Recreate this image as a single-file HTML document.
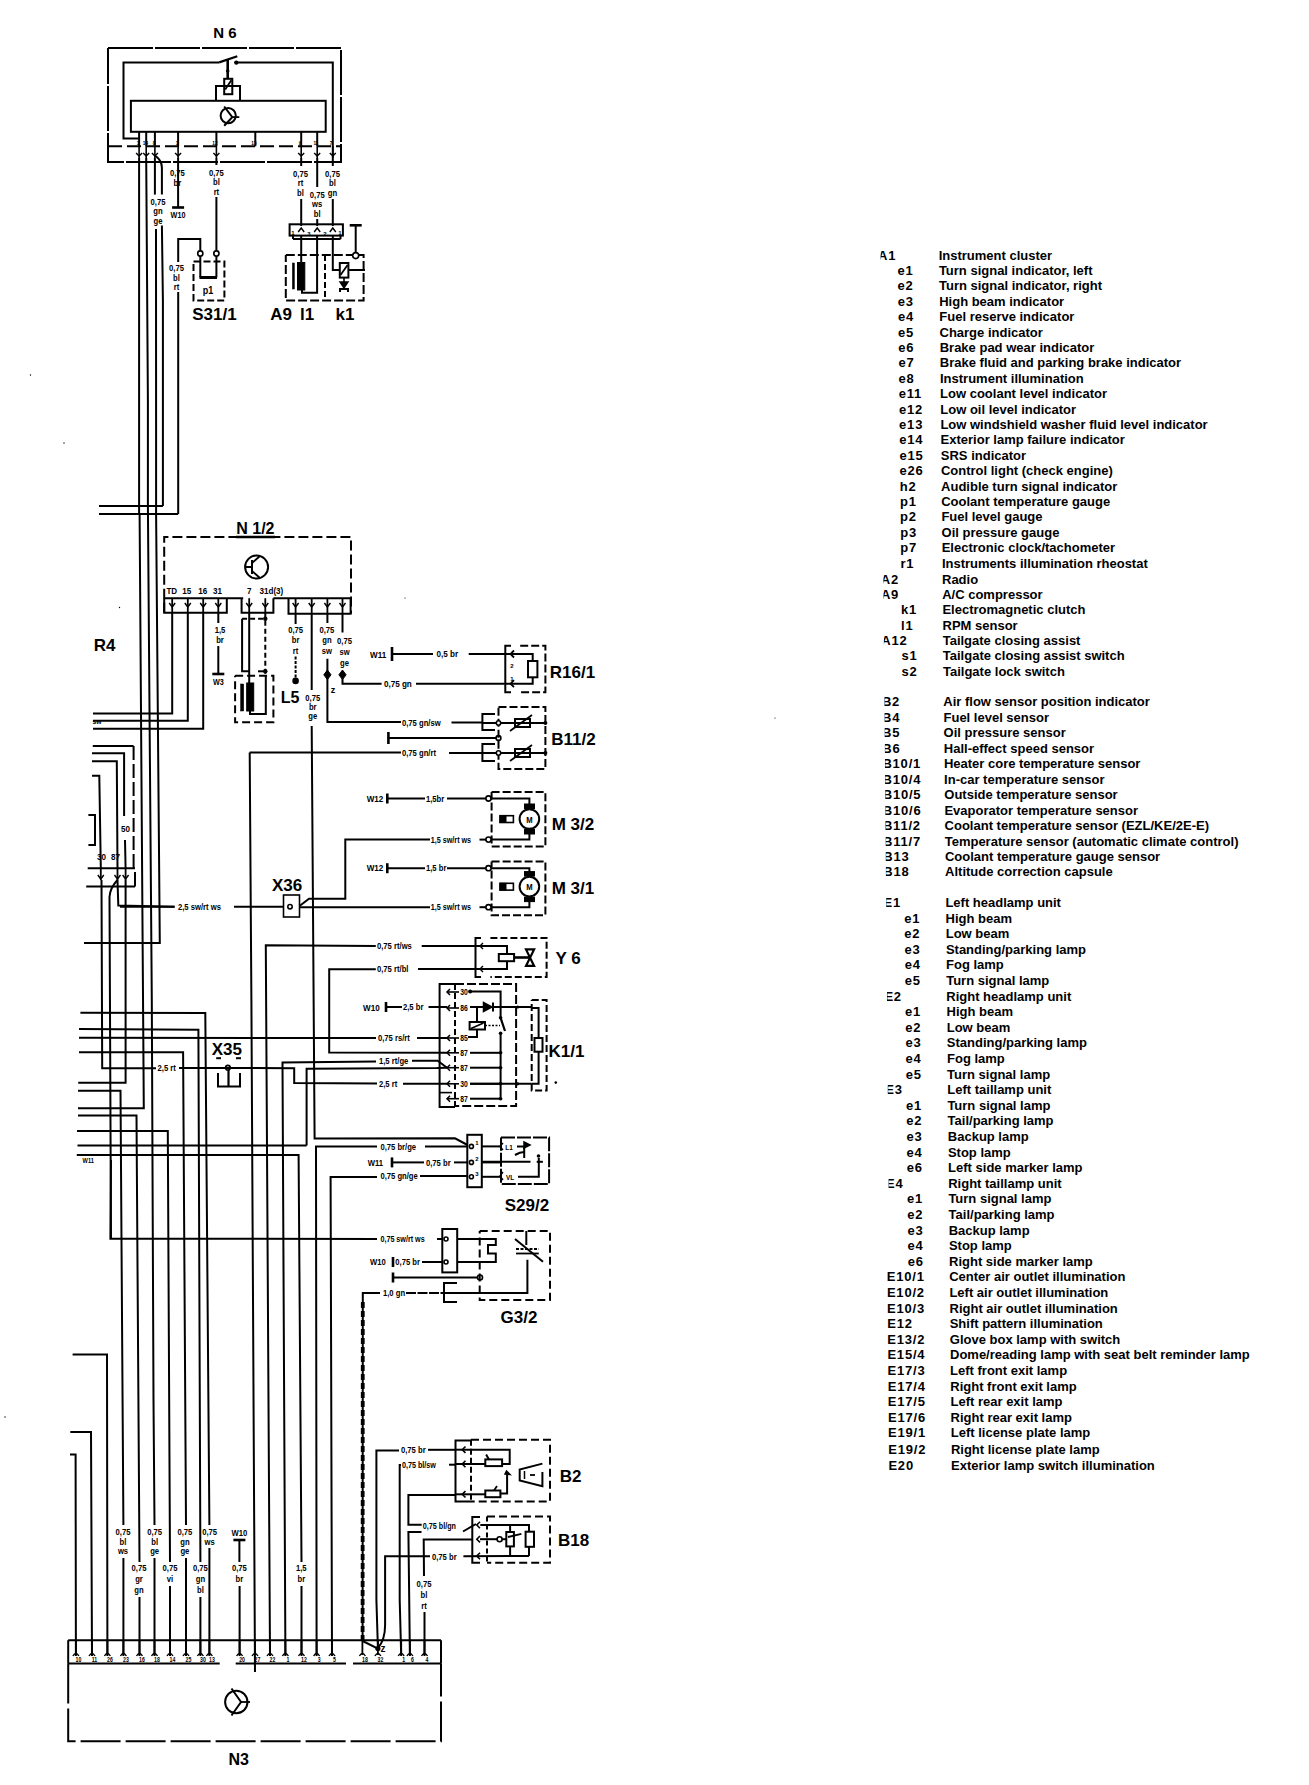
<!DOCTYPE html>
<html><head><meta charset="utf-8"><style>
html,body{margin:0;padding:0;background:#fff;overflow:hidden;}
svg{display:block;}
text{fill:#000;}
</style></head><body>
<svg width="1309" height="1785" viewBox="0 0 1309 1785" stroke-linecap="butt">
<rect x="0" y="0" width="1309" height="1785" fill="#fff"/>
<text x="878" y="259.6" font-family="&quot;Liberation Sans&quot;, sans-serif" font-size="13" font-weight="bold" text-anchor="start" letter-spacing="0.8">A1</text>
<rect x="877.7" y="249.1" width="2.9" height="12" fill="#fff"/>
<text x="938.7" y="259.6" font-family="&quot;Liberation Sans&quot;, sans-serif" font-size="13" font-weight="bold" text-anchor="start" letter-spacing="0.0">Instrument cluster</text>
<text x="897.5" y="275" font-family="&quot;Liberation Sans&quot;, sans-serif" font-size="13" font-weight="bold" text-anchor="start" letter-spacing="0.8">e1</text>
<text x="938.9" y="275" font-family="&quot;Liberation Sans&quot;, sans-serif" font-size="13" font-weight="bold" text-anchor="start" letter-spacing="0.0">Turn signal indicator, left</text>
<text x="897.6" y="290.4" font-family="&quot;Liberation Sans&quot;, sans-serif" font-size="13" font-weight="bold" text-anchor="start" letter-spacing="0.8">e2</text>
<text x="939" y="290.4" font-family="&quot;Liberation Sans&quot;, sans-serif" font-size="13" font-weight="bold" text-anchor="start" letter-spacing="0.0">Turn signal indicator, right</text>
<text x="897.8" y="305.8" font-family="&quot;Liberation Sans&quot;, sans-serif" font-size="13" font-weight="bold" text-anchor="start" letter-spacing="0.8">e3</text>
<text x="939.2" y="305.8" font-family="&quot;Liberation Sans&quot;, sans-serif" font-size="13" font-weight="bold" text-anchor="start" letter-spacing="0.0">High beam indicator</text>
<text x="897.9" y="321.2" font-family="&quot;Liberation Sans&quot;, sans-serif" font-size="13" font-weight="bold" text-anchor="start" letter-spacing="0.8">e4</text>
<text x="939.3" y="321.2" font-family="&quot;Liberation Sans&quot;, sans-serif" font-size="13" font-weight="bold" text-anchor="start" letter-spacing="0.0">Fuel reserve indicator</text>
<text x="898.1" y="336.6" font-family="&quot;Liberation Sans&quot;, sans-serif" font-size="13" font-weight="bold" text-anchor="start" letter-spacing="0.8">e5</text>
<text x="939.5" y="336.6" font-family="&quot;Liberation Sans&quot;, sans-serif" font-size="13" font-weight="bold" text-anchor="start" letter-spacing="0.0">Charge indicator</text>
<text x="898.3" y="352" font-family="&quot;Liberation Sans&quot;, sans-serif" font-size="13" font-weight="bold" text-anchor="start" letter-spacing="0.8">e6</text>
<text x="939.7" y="352" font-family="&quot;Liberation Sans&quot;, sans-serif" font-size="13" font-weight="bold" text-anchor="start" letter-spacing="0.0">Brake pad wear indicator</text>
<text x="898.4" y="367.4" font-family="&quot;Liberation Sans&quot;, sans-serif" font-size="13" font-weight="bold" text-anchor="start" letter-spacing="0.8">e7</text>
<text x="939.8" y="367.4" font-family="&quot;Liberation Sans&quot;, sans-serif" font-size="13" font-weight="bold" text-anchor="start" letter-spacing="0.0">Brake fluid and parking brake indicator</text>
<text x="898.6" y="382.8" font-family="&quot;Liberation Sans&quot;, sans-serif" font-size="13" font-weight="bold" text-anchor="start" letter-spacing="0.8">e8</text>
<text x="940" y="382.8" font-family="&quot;Liberation Sans&quot;, sans-serif" font-size="13" font-weight="bold" text-anchor="start" letter-spacing="0.0">Instrument illumination</text>
<text x="898.7" y="398.2" font-family="&quot;Liberation Sans&quot;, sans-serif" font-size="13" font-weight="bold" text-anchor="start" letter-spacing="0.8">e11</text>
<text x="940.1" y="398.2" font-family="&quot;Liberation Sans&quot;, sans-serif" font-size="13" font-weight="bold" text-anchor="start" letter-spacing="0.0">Low coolant level indicator</text>
<text x="898.9" y="413.6" font-family="&quot;Liberation Sans&quot;, sans-serif" font-size="13" font-weight="bold" text-anchor="start" letter-spacing="0.8">e12</text>
<text x="940.3" y="413.6" font-family="&quot;Liberation Sans&quot;, sans-serif" font-size="13" font-weight="bold" text-anchor="start" letter-spacing="0.0">Low oil level indicator</text>
<text x="899.1" y="429" font-family="&quot;Liberation Sans&quot;, sans-serif" font-size="13" font-weight="bold" text-anchor="start" letter-spacing="0.8">e13</text>
<text x="940.4" y="429" font-family="&quot;Liberation Sans&quot;, sans-serif" font-size="13" font-weight="bold" text-anchor="start" letter-spacing="0.0">Low windshield washer fluid level indicator</text>
<text x="899.2" y="444.4" font-family="&quot;Liberation Sans&quot;, sans-serif" font-size="13" font-weight="bold" text-anchor="start" letter-spacing="0.8">e14</text>
<text x="940.6" y="444.4" font-family="&quot;Liberation Sans&quot;, sans-serif" font-size="13" font-weight="bold" text-anchor="start" letter-spacing="0.0">Exterior lamp failure indicator</text>
<text x="899.4" y="459.8" font-family="&quot;Liberation Sans&quot;, sans-serif" font-size="13" font-weight="bold" text-anchor="start" letter-spacing="0.8">e15</text>
<text x="940.8" y="459.8" font-family="&quot;Liberation Sans&quot;, sans-serif" font-size="13" font-weight="bold" text-anchor="start" letter-spacing="0.0">SRS indicator</text>
<text x="899.5" y="475.2" font-family="&quot;Liberation Sans&quot;, sans-serif" font-size="13" font-weight="bold" text-anchor="start" letter-spacing="0.8">e26</text>
<text x="940.9" y="475.2" font-family="&quot;Liberation Sans&quot;, sans-serif" font-size="13" font-weight="bold" text-anchor="start" letter-spacing="0.0">Control light (check engine)</text>
<text x="899.7" y="490.6" font-family="&quot;Liberation Sans&quot;, sans-serif" font-size="13" font-weight="bold" text-anchor="start" letter-spacing="0.8">h2</text>
<text x="941.1" y="490.6" font-family="&quot;Liberation Sans&quot;, sans-serif" font-size="13" font-weight="bold" text-anchor="start" letter-spacing="0.0">Audible turn signal indicator</text>
<text x="899.9" y="506" font-family="&quot;Liberation Sans&quot;, sans-serif" font-size="13" font-weight="bold" text-anchor="start" letter-spacing="0.8">p1</text>
<text x="941.2" y="506" font-family="&quot;Liberation Sans&quot;, sans-serif" font-size="13" font-weight="bold" text-anchor="start" letter-spacing="0.0">Coolant temperature gauge</text>
<text x="900" y="521.4" font-family="&quot;Liberation Sans&quot;, sans-serif" font-size="13" font-weight="bold" text-anchor="start" letter-spacing="0.8">p2</text>
<text x="941.4" y="521.4" font-family="&quot;Liberation Sans&quot;, sans-serif" font-size="13" font-weight="bold" text-anchor="start" letter-spacing="0.0">Fuel level gauge</text>
<text x="900.2" y="536.8" font-family="&quot;Liberation Sans&quot;, sans-serif" font-size="13" font-weight="bold" text-anchor="start" letter-spacing="0.8">p3</text>
<text x="941.6" y="536.8" font-family="&quot;Liberation Sans&quot;, sans-serif" font-size="13" font-weight="bold" text-anchor="start" letter-spacing="0.0">Oil pressure gauge</text>
<text x="900.3" y="552.2" font-family="&quot;Liberation Sans&quot;, sans-serif" font-size="13" font-weight="bold" text-anchor="start" letter-spacing="0.8">p7</text>
<text x="941.7" y="552.2" font-family="&quot;Liberation Sans&quot;, sans-serif" font-size="13" font-weight="bold" text-anchor="start" letter-spacing="0.0">Electronic clock/tachometer</text>
<text x="900.5" y="567.6" font-family="&quot;Liberation Sans&quot;, sans-serif" font-size="13" font-weight="bold" text-anchor="start" letter-spacing="0.8">r1</text>
<text x="941.9" y="567.6" font-family="&quot;Liberation Sans&quot;, sans-serif" font-size="13" font-weight="bold" text-anchor="start" letter-spacing="0.0">Instruments illumination rheostat</text>
<text x="880.8" y="583.5" font-family="&quot;Liberation Sans&quot;, sans-serif" font-size="13" font-weight="bold" text-anchor="start" letter-spacing="0.8">A2</text>
<rect x="880.5" y="573.0" width="2.9" height="12" fill="#fff"/>
<text x="942" y="583.5" font-family="&quot;Liberation Sans&quot;, sans-serif" font-size="13" font-weight="bold" text-anchor="start" letter-spacing="0.0">Radio</text>
<text x="880.9" y="598.9" font-family="&quot;Liberation Sans&quot;, sans-serif" font-size="13" font-weight="bold" text-anchor="start" letter-spacing="0.8">A9</text>
<rect x="880.6" y="588.4" width="2.9" height="12" fill="#fff"/>
<text x="942.2" y="598.9" font-family="&quot;Liberation Sans&quot;, sans-serif" font-size="13" font-weight="bold" text-anchor="start" letter-spacing="0.0">A/C compressor</text>
<text x="901" y="614.2" font-family="&quot;Liberation Sans&quot;, sans-serif" font-size="13" font-weight="bold" text-anchor="start" letter-spacing="0.8">k1</text>
<text x="942.4" y="614.2" font-family="&quot;Liberation Sans&quot;, sans-serif" font-size="13" font-weight="bold" text-anchor="start" letter-spacing="0.0">Electromagnetic clutch</text>
<text x="901.1" y="629.5" font-family="&quot;Liberation Sans&quot;, sans-serif" font-size="13" font-weight="bold" text-anchor="start" letter-spacing="0.8">l1</text>
<text x="942.5" y="629.5" font-family="&quot;Liberation Sans&quot;, sans-serif" font-size="13" font-weight="bold" text-anchor="start" letter-spacing="0.0">RPM sensor</text>
<text x="881.3" y="644.9" font-family="&quot;Liberation Sans&quot;, sans-serif" font-size="13" font-weight="bold" text-anchor="start" letter-spacing="0.8">A12</text>
<rect x="881.0" y="634.4" width="2.9" height="12" fill="#fff"/>
<text x="942.7" y="644.9" font-family="&quot;Liberation Sans&quot;, sans-serif" font-size="13" font-weight="bold" text-anchor="start" letter-spacing="0.0">Tailgate closing assist</text>
<text x="901.5" y="660.2" font-family="&quot;Liberation Sans&quot;, sans-serif" font-size="13" font-weight="bold" text-anchor="start" letter-spacing="0.8">s1</text>
<text x="942.8" y="660.2" font-family="&quot;Liberation Sans&quot;, sans-serif" font-size="13" font-weight="bold" text-anchor="start" letter-spacing="0.0">Tailgate closing assist switch</text>
<text x="901.6" y="675.6" font-family="&quot;Liberation Sans&quot;, sans-serif" font-size="13" font-weight="bold" text-anchor="start" letter-spacing="0.8">s2</text>
<text x="943" y="675.6" font-family="&quot;Liberation Sans&quot;, sans-serif" font-size="13" font-weight="bold" text-anchor="start" letter-spacing="0.0">Tailgate lock switch</text>
<text x="881.9" y="706" font-family="&quot;Liberation Sans&quot;, sans-serif" font-size="13" font-weight="bold" text-anchor="start" letter-spacing="0.8">B2</text>
<rect x="881.6" y="695.5" width="2.9" height="12" fill="#fff"/>
<text x="943.3" y="706" font-family="&quot;Liberation Sans&quot;, sans-serif" font-size="13" font-weight="bold" text-anchor="start" letter-spacing="0.0">Air flow sensor position indicator</text>
<text x="882" y="721.5" font-family="&quot;Liberation Sans&quot;, sans-serif" font-size="13" font-weight="bold" text-anchor="start" letter-spacing="0.8">B4</text>
<rect x="881.7" y="711.0" width="2.9" height="12" fill="#fff"/>
<text x="943.5" y="721.5" font-family="&quot;Liberation Sans&quot;, sans-serif" font-size="13" font-weight="bold" text-anchor="start" letter-spacing="0.0">Fuel level sensor</text>
<text x="882.1" y="737" font-family="&quot;Liberation Sans&quot;, sans-serif" font-size="13" font-weight="bold" text-anchor="start" letter-spacing="0.8">B5</text>
<rect x="881.8" y="726.5" width="2.9" height="12" fill="#fff"/>
<text x="943.6" y="737" font-family="&quot;Liberation Sans&quot;, sans-serif" font-size="13" font-weight="bold" text-anchor="start" letter-spacing="0.0">Oil pressure sensor</text>
<text x="882.3" y="752.6" font-family="&quot;Liberation Sans&quot;, sans-serif" font-size="13" font-weight="bold" text-anchor="start" letter-spacing="0.8">B6</text>
<rect x="882.0" y="742.1" width="2.9" height="12" fill="#fff"/>
<text x="943.8" y="752.6" font-family="&quot;Liberation Sans&quot;, sans-serif" font-size="13" font-weight="bold" text-anchor="start" letter-spacing="0.0">Hall-effect speed sensor</text>
<text x="882.4" y="768.1" font-family="&quot;Liberation Sans&quot;, sans-serif" font-size="13" font-weight="bold" text-anchor="start" letter-spacing="0.8">B10/1</text>
<rect x="882.1" y="757.6" width="2.9" height="12" fill="#fff"/>
<text x="943.9" y="768.1" font-family="&quot;Liberation Sans&quot;, sans-serif" font-size="13" font-weight="bold" text-anchor="start" letter-spacing="0.0">Heater core temperature sensor</text>
<text x="882.5" y="783.6" font-family="&quot;Liberation Sans&quot;, sans-serif" font-size="13" font-weight="bold" text-anchor="start" letter-spacing="0.8">B10/4</text>
<rect x="882.2" y="773.1" width="2.9" height="12" fill="#fff"/>
<text x="944.1" y="783.6" font-family="&quot;Liberation Sans&quot;, sans-serif" font-size="13" font-weight="bold" text-anchor="start" letter-spacing="0.0">In-car temperature sensor</text>
<text x="882.7" y="799.1" font-family="&quot;Liberation Sans&quot;, sans-serif" font-size="13" font-weight="bold" text-anchor="start" letter-spacing="0.8">B10/5</text>
<rect x="882.4" y="788.6" width="2.9" height="12" fill="#fff"/>
<text x="944.3" y="799.1" font-family="&quot;Liberation Sans&quot;, sans-serif" font-size="13" font-weight="bold" text-anchor="start" letter-spacing="0.0">Outside temperature sensor</text>
<text x="882.8" y="814.6" font-family="&quot;Liberation Sans&quot;, sans-serif" font-size="13" font-weight="bold" text-anchor="start" letter-spacing="0.8">B10/6</text>
<rect x="882.5" y="804.1" width="2.9" height="12" fill="#fff"/>
<text x="944.4" y="814.6" font-family="&quot;Liberation Sans&quot;, sans-serif" font-size="13" font-weight="bold" text-anchor="start" letter-spacing="0.0">Evaporator temperature sensor</text>
<text x="882.9" y="830.2" font-family="&quot;Liberation Sans&quot;, sans-serif" font-size="13" font-weight="bold" text-anchor="start" letter-spacing="0.8">B11/2</text>
<rect x="882.6" y="819.7" width="2.9" height="12" fill="#fff"/>
<text x="944.6" y="830.2" font-family="&quot;Liberation Sans&quot;, sans-serif" font-size="13" font-weight="bold" text-anchor="start" letter-spacing="0.0">Coolant temperature sensor (EZL/KE/2E-E)</text>
<text x="883.1" y="845.7" font-family="&quot;Liberation Sans&quot;, sans-serif" font-size="13" font-weight="bold" text-anchor="start" letter-spacing="0.8">B11/7</text>
<rect x="882.8" y="835.2" width="2.9" height="12" fill="#fff"/>
<text x="944.7" y="845.7" font-family="&quot;Liberation Sans&quot;, sans-serif" font-size="13" font-weight="bold" text-anchor="start" letter-spacing="0.0">Temperature sensor (automatic climate control)</text>
<text x="883.2" y="861.2" font-family="&quot;Liberation Sans&quot;, sans-serif" font-size="13" font-weight="bold" text-anchor="start" letter-spacing="0.8">B13</text>
<rect x="882.9" y="850.7" width="2.9" height="12" fill="#fff"/>
<text x="944.9" y="861.2" font-family="&quot;Liberation Sans&quot;, sans-serif" font-size="13" font-weight="bold" text-anchor="start" letter-spacing="0.0">Coolant temperature gauge sensor</text>
<text x="883.3" y="876.4" font-family="&quot;Liberation Sans&quot;, sans-serif" font-size="13" font-weight="bold" text-anchor="start" letter-spacing="0.8">B18</text>
<rect x="883.0" y="865.9" width="2.9" height="12" fill="#fff"/>
<text x="945.1" y="876.4" font-family="&quot;Liberation Sans&quot;, sans-serif" font-size="13" font-weight="bold" text-anchor="start" letter-spacing="0.0">Altitude correction capsule</text>
<text x="883.6" y="907.3" font-family="&quot;Liberation Sans&quot;, sans-serif" font-size="13" font-weight="bold" text-anchor="start" letter-spacing="0.8">E1</text>
<rect x="883.3" y="896.8" width="2.9" height="12" fill="#fff"/>
<text x="945.4" y="907.3" font-family="&quot;Liberation Sans&quot;, sans-serif" font-size="13" font-weight="bold" text-anchor="start" letter-spacing="0.0">Left headlamp unit</text>
<text x="904.2" y="922.8" font-family="&quot;Liberation Sans&quot;, sans-serif" font-size="13" font-weight="bold" text-anchor="start" letter-spacing="0.8">e1</text>
<text x="945.5" y="922.8" font-family="&quot;Liberation Sans&quot;, sans-serif" font-size="13" font-weight="bold" text-anchor="start" letter-spacing="0.0">High beam</text>
<text x="904.3" y="938.4" font-family="&quot;Liberation Sans&quot;, sans-serif" font-size="13" font-weight="bold" text-anchor="start" letter-spacing="0.8">e2</text>
<text x="945.7" y="938.4" font-family="&quot;Liberation Sans&quot;, sans-serif" font-size="13" font-weight="bold" text-anchor="start" letter-spacing="0.0">Low beam</text>
<text x="904.5" y="953.9" font-family="&quot;Liberation Sans&quot;, sans-serif" font-size="13" font-weight="bold" text-anchor="start" letter-spacing="0.8">e3</text>
<text x="945.9" y="953.9" font-family="&quot;Liberation Sans&quot;, sans-serif" font-size="13" font-weight="bold" text-anchor="start" letter-spacing="0.0">Standing/parking lamp</text>
<text x="904.7" y="969.4" font-family="&quot;Liberation Sans&quot;, sans-serif" font-size="13" font-weight="bold" text-anchor="start" letter-spacing="0.8">e4</text>
<text x="946" y="969.4" font-family="&quot;Liberation Sans&quot;, sans-serif" font-size="13" font-weight="bold" text-anchor="start" letter-spacing="0.0">Fog lamp</text>
<text x="904.8" y="985" font-family="&quot;Liberation Sans&quot;, sans-serif" font-size="13" font-weight="bold" text-anchor="start" letter-spacing="0.8">e5</text>
<text x="946.2" y="985" font-family="&quot;Liberation Sans&quot;, sans-serif" font-size="13" font-weight="bold" text-anchor="start" letter-spacing="0.0">Turn signal lamp</text>
<text x="884.4" y="1000.5" font-family="&quot;Liberation Sans&quot;, sans-serif" font-size="13" font-weight="bold" text-anchor="start" letter-spacing="0.8">E2</text>
<rect x="884.1" y="990.0" width="2.9" height="12" fill="#fff"/>
<text x="946.3" y="1000.5" font-family="&quot;Liberation Sans&quot;, sans-serif" font-size="13" font-weight="bold" text-anchor="start" letter-spacing="0.0">Right headlamp unit</text>
<text x="905.1" y="1016.1" font-family="&quot;Liberation Sans&quot;, sans-serif" font-size="13" font-weight="bold" text-anchor="start" letter-spacing="0.8">e1</text>
<text x="946.5" y="1016.1" font-family="&quot;Liberation Sans&quot;, sans-serif" font-size="13" font-weight="bold" text-anchor="start" letter-spacing="0.0">High beam</text>
<text x="905.3" y="1031.7" font-family="&quot;Liberation Sans&quot;, sans-serif" font-size="13" font-weight="bold" text-anchor="start" letter-spacing="0.8">e2</text>
<text x="946.7" y="1031.7" font-family="&quot;Liberation Sans&quot;, sans-serif" font-size="13" font-weight="bold" text-anchor="start" letter-spacing="0.0">Low beam</text>
<text x="905.5" y="1047.3" font-family="&quot;Liberation Sans&quot;, sans-serif" font-size="13" font-weight="bold" text-anchor="start" letter-spacing="0.8">e3</text>
<text x="946.8" y="1047.3" font-family="&quot;Liberation Sans&quot;, sans-serif" font-size="13" font-weight="bold" text-anchor="start" letter-spacing="0.0">Standing/parking lamp</text>
<text x="905.6" y="1062.9" font-family="&quot;Liberation Sans&quot;, sans-serif" font-size="13" font-weight="bold" text-anchor="start" letter-spacing="0.8">e4</text>
<text x="947" y="1062.9" font-family="&quot;Liberation Sans&quot;, sans-serif" font-size="13" font-weight="bold" text-anchor="start" letter-spacing="0.0">Fog lamp</text>
<text x="905.8" y="1078.5" font-family="&quot;Liberation Sans&quot;, sans-serif" font-size="13" font-weight="bold" text-anchor="start" letter-spacing="0.8">e5</text>
<text x="947.1" y="1078.5" font-family="&quot;Liberation Sans&quot;, sans-serif" font-size="13" font-weight="bold" text-anchor="start" letter-spacing="0.0">Turn signal lamp</text>
<text x="885.2" y="1094.1" font-family="&quot;Liberation Sans&quot;, sans-serif" font-size="13" font-weight="bold" text-anchor="start" letter-spacing="0.8">E3</text>
<rect x="884.9" y="1083.6" width="2.9" height="12" fill="#fff"/>
<text x="947.3" y="1094.1" font-family="&quot;Liberation Sans&quot;, sans-serif" font-size="13" font-weight="bold" text-anchor="start" letter-spacing="0.0">Left taillamp unit</text>
<text x="906.1" y="1109.7" font-family="&quot;Liberation Sans&quot;, sans-serif" font-size="13" font-weight="bold" text-anchor="start" letter-spacing="0.8">e1</text>
<text x="947.4" y="1109.7" font-family="&quot;Liberation Sans&quot;, sans-serif" font-size="13" font-weight="bold" text-anchor="start" letter-spacing="0.0">Turn signal lamp</text>
<text x="906.3" y="1125.3" font-family="&quot;Liberation Sans&quot;, sans-serif" font-size="13" font-weight="bold" text-anchor="start" letter-spacing="0.8">e2</text>
<text x="947.6" y="1125.3" font-family="&quot;Liberation Sans&quot;, sans-serif" font-size="13" font-weight="bold" text-anchor="start" letter-spacing="0.0">Tail/parking lamp</text>
<text x="906.4" y="1140.9" font-family="&quot;Liberation Sans&quot;, sans-serif" font-size="13" font-weight="bold" text-anchor="start" letter-spacing="0.8">e3</text>
<text x="947.8" y="1140.9" font-family="&quot;Liberation Sans&quot;, sans-serif" font-size="13" font-weight="bold" text-anchor="start" letter-spacing="0.0">Backup lamp</text>
<text x="906.6" y="1156.5" font-family="&quot;Liberation Sans&quot;, sans-serif" font-size="13" font-weight="bold" text-anchor="start" letter-spacing="0.8">e4</text>
<text x="947.9" y="1156.5" font-family="&quot;Liberation Sans&quot;, sans-serif" font-size="13" font-weight="bold" text-anchor="start" letter-spacing="0.0">Stop lamp</text>
<text x="906.7" y="1172.1" font-family="&quot;Liberation Sans&quot;, sans-serif" font-size="13" font-weight="bold" text-anchor="start" letter-spacing="0.8">e6</text>
<text x="948.1" y="1172.1" font-family="&quot;Liberation Sans&quot;, sans-serif" font-size="13" font-weight="bold" text-anchor="start" letter-spacing="0.0">Left side marker lamp</text>
<text x="886" y="1187.7" font-family="&quot;Liberation Sans&quot;, sans-serif" font-size="13" font-weight="bold" text-anchor="start" letter-spacing="0.8">E4</text>
<rect x="885.7" y="1177.2" width="2.9" height="12" fill="#fff"/>
<text x="948.2" y="1187.7" font-family="&quot;Liberation Sans&quot;, sans-serif" font-size="13" font-weight="bold" text-anchor="start" letter-spacing="0.0">Right taillamp unit</text>
<text x="907.1" y="1203.3" font-family="&quot;Liberation Sans&quot;, sans-serif" font-size="13" font-weight="bold" text-anchor="start" letter-spacing="0.8">e1</text>
<text x="948.4" y="1203.3" font-family="&quot;Liberation Sans&quot;, sans-serif" font-size="13" font-weight="bold" text-anchor="start" letter-spacing="0.0">Turn signal lamp</text>
<text x="907.2" y="1219" font-family="&quot;Liberation Sans&quot;, sans-serif" font-size="13" font-weight="bold" text-anchor="start" letter-spacing="0.8">e2</text>
<text x="948.6" y="1219" font-family="&quot;Liberation Sans&quot;, sans-serif" font-size="13" font-weight="bold" text-anchor="start" letter-spacing="0.0">Tail/parking lamp</text>
<text x="907.4" y="1234.6" font-family="&quot;Liberation Sans&quot;, sans-serif" font-size="13" font-weight="bold" text-anchor="start" letter-spacing="0.8">e3</text>
<text x="948.7" y="1234.6" font-family="&quot;Liberation Sans&quot;, sans-serif" font-size="13" font-weight="bold" text-anchor="start" letter-spacing="0.0">Backup lamp</text>
<text x="907.5" y="1250.2" font-family="&quot;Liberation Sans&quot;, sans-serif" font-size="13" font-weight="bold" text-anchor="start" letter-spacing="0.8">e4</text>
<text x="948.9" y="1250.2" font-family="&quot;Liberation Sans&quot;, sans-serif" font-size="13" font-weight="bold" text-anchor="start" letter-spacing="0.0">Stop lamp</text>
<text x="907.7" y="1265.8" font-family="&quot;Liberation Sans&quot;, sans-serif" font-size="13" font-weight="bold" text-anchor="start" letter-spacing="0.8">e6</text>
<text x="949" y="1265.8" font-family="&quot;Liberation Sans&quot;, sans-serif" font-size="13" font-weight="bold" text-anchor="start" letter-spacing="0.0">Right side marker lamp</text>
<text x="886.8" y="1281.4" font-family="&quot;Liberation Sans&quot;, sans-serif" font-size="13" font-weight="bold" text-anchor="start" letter-spacing="0.8">E10/1</text>
<text x="949.2" y="1281.4" font-family="&quot;Liberation Sans&quot;, sans-serif" font-size="13" font-weight="bold" text-anchor="start" letter-spacing="0.0">Center air outlet illumination</text>
<text x="886.9" y="1297" font-family="&quot;Liberation Sans&quot;, sans-serif" font-size="13" font-weight="bold" text-anchor="start" letter-spacing="0.8">E10/2</text>
<text x="949.4" y="1297" font-family="&quot;Liberation Sans&quot;, sans-serif" font-size="13" font-weight="bold" text-anchor="start" letter-spacing="0.0">Left air outlet illumination</text>
<text x="887" y="1312.6" font-family="&quot;Liberation Sans&quot;, sans-serif" font-size="13" font-weight="bold" text-anchor="start" letter-spacing="0.8">E10/3</text>
<text x="949.5" y="1312.6" font-family="&quot;Liberation Sans&quot;, sans-serif" font-size="13" font-weight="bold" text-anchor="start" letter-spacing="0.0">Right air outlet illumination</text>
<text x="887.2" y="1328.2" font-family="&quot;Liberation Sans&quot;, sans-serif" font-size="13" font-weight="bold" text-anchor="start" letter-spacing="0.8">E12</text>
<text x="949.7" y="1328.2" font-family="&quot;Liberation Sans&quot;, sans-serif" font-size="13" font-weight="bold" text-anchor="start" letter-spacing="0.0">Shift pattern illumination</text>
<text x="887.3" y="1343.8" font-family="&quot;Liberation Sans&quot;, sans-serif" font-size="13" font-weight="bold" text-anchor="start" letter-spacing="0.8">E13/2</text>
<text x="949.8" y="1343.8" font-family="&quot;Liberation Sans&quot;, sans-serif" font-size="13" font-weight="bold" text-anchor="start" letter-spacing="0.0">Glove box lamp with switch</text>
<text x="887.4" y="1359.4" font-family="&quot;Liberation Sans&quot;, sans-serif" font-size="13" font-weight="bold" text-anchor="start" letter-spacing="0.8">E15/4</text>
<text x="950" y="1359.4" font-family="&quot;Liberation Sans&quot;, sans-serif" font-size="13" font-weight="bold" text-anchor="start" letter-spacing="0.0">Dome/reading lamp with seat belt reminder lamp</text>
<text x="887.6" y="1375" font-family="&quot;Liberation Sans&quot;, sans-serif" font-size="13" font-weight="bold" text-anchor="start" letter-spacing="0.8">E17/3</text>
<text x="950.1" y="1375" font-family="&quot;Liberation Sans&quot;, sans-serif" font-size="13" font-weight="bold" text-anchor="start" letter-spacing="0.0">Left front exit lamp</text>
<text x="887.7" y="1390.6" font-family="&quot;Liberation Sans&quot;, sans-serif" font-size="13" font-weight="bold" text-anchor="start" letter-spacing="0.8">E17/4</text>
<text x="950.3" y="1390.6" font-family="&quot;Liberation Sans&quot;, sans-serif" font-size="13" font-weight="bold" text-anchor="start" letter-spacing="0.0">Right front exit lamp</text>
<text x="887.8" y="1406.2" font-family="&quot;Liberation Sans&quot;, sans-serif" font-size="13" font-weight="bold" text-anchor="start" letter-spacing="0.8">E17/5</text>
<text x="950.5" y="1406.2" font-family="&quot;Liberation Sans&quot;, sans-serif" font-size="13" font-weight="bold" text-anchor="start" letter-spacing="0.0">Left rear exit lamp</text>
<text x="888" y="1421.8" font-family="&quot;Liberation Sans&quot;, sans-serif" font-size="13" font-weight="bold" text-anchor="start" letter-spacing="0.8">E17/6</text>
<text x="950.6" y="1421.8" font-family="&quot;Liberation Sans&quot;, sans-serif" font-size="13" font-weight="bold" text-anchor="start" letter-spacing="0.0">Right rear exit lamp</text>
<text x="888.1" y="1437.4" font-family="&quot;Liberation Sans&quot;, sans-serif" font-size="13" font-weight="bold" text-anchor="start" letter-spacing="0.8">E19/1</text>
<text x="950.8" y="1437.4" font-family="&quot;Liberation Sans&quot;, sans-serif" font-size="13" font-weight="bold" text-anchor="start" letter-spacing="0.0">Left license plate lamp</text>
<text x="888.2" y="1453.5" font-family="&quot;Liberation Sans&quot;, sans-serif" font-size="13" font-weight="bold" text-anchor="start" letter-spacing="0.8">E19/2</text>
<text x="950.9" y="1453.5" font-family="&quot;Liberation Sans&quot;, sans-serif" font-size="13" font-weight="bold" text-anchor="start" letter-spacing="0.0">Right license plate lamp</text>
<text x="888.4" y="1469.5" font-family="&quot;Liberation Sans&quot;, sans-serif" font-size="13" font-weight="bold" text-anchor="start" letter-spacing="0.8">E20</text>
<text x="951.1" y="1469.5" font-family="&quot;Liberation Sans&quot;, sans-serif" font-size="13" font-weight="bold" text-anchor="start" letter-spacing="0.0">Exterior lamp switch illumination</text>
<text x="225" y="38.4" font-family="&quot;Liberation Sans&quot;, sans-serif" font-size="15" font-weight="bold" text-anchor="middle">N 6</text>
<polyline points="108,48 341,48 341,162 108,162 108,48" fill="none" stroke="#000" stroke-width="2" stroke-dasharray="45,2"/>
<line x1="108" y1="146.3" x2="341" y2="146.3" stroke="#000" stroke-width="2" stroke-dasharray="14,5"/>
<polyline points="139.1,138.6 123.5,138.6 123.5,62.4 219.2,62.4" fill="none" stroke="#000" stroke-width="2"/>
<line x1="219.2" y1="62.4" x2="237.3" y2="56.3" stroke="#000" stroke-width="2.2"/>
<polyline points="236.3,62.6 332.8,62.6 332.8,158" fill="none" stroke="#000" stroke-width="2"/>
<circle cx="236.3" cy="62.6" r="2.2" fill="#000"/>
<line x1="227.7" y1="59.6" x2="227.7" y2="79" stroke="#000" stroke-width="2.6"/>
<circle cx="227.7" cy="71" r="1.8" fill="#000"/>
<polyline points="216,101 216,86 240,86 240,101" fill="none" stroke="#000" stroke-width="2"/>
<rect x="224.2" y="78.8" width="8.1" height="15.4" fill="none" stroke="#000" stroke-width="2"/>
<line x1="225.2" y1="89.4" x2="231.3" y2="80.3" stroke="#000" stroke-width="1.8"/>
<rect x="130.9" y="100.8" width="194.8" height="31" fill="none" stroke="#000" stroke-width="2"/>
<circle cx="228.2" cy="115.6" r="7.6" fill="none" stroke="#000" stroke-width="2"/>
<path d="M224.2,106.5 L232.3,117.1 L224.2,125.7" fill="none" stroke="#000" stroke-width="2"/>
<line x1="232.3" y1="117.1" x2="239.3" y2="117.1" stroke="#000" stroke-width="1.8"/>
<line x1="139.1" y1="131.8" x2="139.1" y2="146.3" stroke="#000" stroke-width="2"/>
<line x1="139.1" y1="146.3" x2="139.1" y2="158" stroke="#000" stroke-width="1.6"/>
<path d="M136.1,153 L139.1,156 L142.1,153" fill="none" stroke="#000" stroke-width="1.4"/>
<line x1="146.2" y1="131.8" x2="146.2" y2="146.3" stroke="#000" stroke-width="2"/>
<line x1="146.2" y1="146.3" x2="146.2" y2="158" stroke="#000" stroke-width="1.6"/>
<path d="M143.2,153 L146.2,156 L149.2,153" fill="none" stroke="#000" stroke-width="1.4"/>
<line x1="154.9" y1="131.8" x2="154.9" y2="146.3" stroke="#000" stroke-width="2"/>
<line x1="154.9" y1="146.3" x2="154.9" y2="158" stroke="#000" stroke-width="1.6"/>
<path d="M151.9,153 L154.9,156 L157.9,153" fill="none" stroke="#000" stroke-width="1.4"/>
<line x1="178.1" y1="131.8" x2="178.1" y2="146.3" stroke="#000" stroke-width="2"/>
<line x1="178.1" y1="146.3" x2="178.1" y2="158" stroke="#000" stroke-width="1.6"/>
<path d="M175.1,153 L178.1,156 L181.1,153" fill="none" stroke="#000" stroke-width="1.4"/>
<line x1="216.4" y1="131.8" x2="216.4" y2="146.3" stroke="#000" stroke-width="2"/>
<line x1="216.4" y1="146.3" x2="216.4" y2="158" stroke="#000" stroke-width="1.6"/>
<path d="M213.4,153 L216.4,156 L219.4,153" fill="none" stroke="#000" stroke-width="1.4"/>
<line x1="255.3" y1="131.8" x2="255.3" y2="146.3" stroke="#000" stroke-width="2"/>
<line x1="301.2" y1="131.8" x2="301.2" y2="146.3" stroke="#000" stroke-width="2"/>
<line x1="301.2" y1="146.3" x2="301.2" y2="158" stroke="#000" stroke-width="1.6"/>
<path d="M298.2,153 L301.2,156 L304.2,153" fill="none" stroke="#000" stroke-width="1.4"/>
<line x1="317.2" y1="131.8" x2="317.2" y2="146.3" stroke="#000" stroke-width="2"/>
<line x1="317.2" y1="146.3" x2="317.2" y2="158" stroke="#000" stroke-width="1.6"/>
<path d="M314.2,153 L317.2,156 L320.2,153" fill="none" stroke="#000" stroke-width="1.4"/>
<line x1="332.8" y1="146.3" x2="332.8" y2="158" stroke="#000" stroke-width="1.6"/>
<path d="M329.8,153 L332.8,156 L335.8,153" fill="none" stroke="#000" stroke-width="1.4"/>
<text transform="translate(138,145) scale(0.8,1)" font-family="&quot;Liberation Sans&quot;, sans-serif" font-size="6" font-weight="bold" text-anchor="middle">1</text>
<text transform="translate(145.5,145) scale(0.8,1)" font-family="&quot;Liberation Sans&quot;, sans-serif" font-size="6" font-weight="bold" text-anchor="middle">14</text>
<text transform="translate(154,145) scale(0.8,1)" font-family="&quot;Liberation Sans&quot;, sans-serif" font-size="6" font-weight="bold" text-anchor="middle">8</text>
<text transform="translate(177,145) scale(0.8,1)" font-family="&quot;Liberation Sans&quot;, sans-serif" font-size="6" font-weight="bold" text-anchor="middle">1</text>
<text transform="translate(215,145) scale(0.8,1)" font-family="&quot;Liberation Sans&quot;, sans-serif" font-size="6" font-weight="bold" text-anchor="middle">12</text>
<text transform="translate(254,145) scale(0.8,1)" font-family="&quot;Liberation Sans&quot;, sans-serif" font-size="6" font-weight="bold" text-anchor="middle">13</text>
<text transform="translate(300,145) scale(0.8,1)" font-family="&quot;Liberation Sans&quot;, sans-serif" font-size="6" font-weight="bold" text-anchor="middle">9</text>
<text transform="translate(316,145) scale(0.8,1)" font-family="&quot;Liberation Sans&quot;, sans-serif" font-size="6" font-weight="bold" text-anchor="middle">11</text>
<text transform="translate(331,145) scale(0.8,1)" font-family="&quot;Liberation Sans&quot;, sans-serif" font-size="6" font-weight="bold" text-anchor="middle">7</text>
<polyline points="139.1,158 139.1,514" fill="none" stroke="#000" stroke-width="2"/>
<polyline points="146.2,158 147.9,400 147.9,506" fill="none" stroke="#000" stroke-width="2"/>
<polyline points="154.9,158 154.9,194.6" fill="none" stroke="#000" stroke-width="2"/>
<polyline points="156,228.9 156.1,420 156.1,514" fill="none" stroke="#000" stroke-width="2"/>
<path d="M154.9,155.6 Q161.9,160 161.9,167.7 L161.9,194.6" fill="none" stroke="#000" stroke-width="2"/>
<polyline points="161.9,225.5 162.9,300 162.9,506" fill="none" stroke="#000" stroke-width="2"/>
<text transform="translate(158,204.5) scale(0.85,1)" font-family="&quot;Liberation Sans&quot;, sans-serif" font-size="9" font-weight="bold" text-anchor="middle">0,75</text>
<text transform="translate(158,214) scale(0.85,1)" font-family="&quot;Liberation Sans&quot;, sans-serif" font-size="9" font-weight="bold" text-anchor="middle">gn</text>
<text transform="translate(158,223.5) scale(0.85,1)" font-family="&quot;Liberation Sans&quot;, sans-serif" font-size="9" font-weight="bold" text-anchor="middle">ge</text>
<line x1="178.1" y1="158" x2="178.1" y2="207.5" stroke="#000" stroke-width="2"/>
<line x1="172.1" y1="207.5" x2="184.1" y2="207.5" stroke="#000" stroke-width="2.6"/>
<text transform="translate(177.4,175.7) scale(0.85,1)" font-family="&quot;Liberation Sans&quot;, sans-serif" font-size="9" font-weight="bold" text-anchor="middle">0,75</text>
<text transform="translate(177.4,185.7) scale(0.85,1)" font-family="&quot;Liberation Sans&quot;, sans-serif" font-size="9" font-weight="bold" text-anchor="middle">br</text>
<text transform="translate(178,217.6) scale(0.85,1)" font-family="&quot;Liberation Sans&quot;, sans-serif" font-size="8.5" font-weight="bold" text-anchor="middle">W10</text>
<polyline points="216.4,158 216.4,165" fill="none" stroke="#000" stroke-width="2"/>
<text transform="translate(216.4,175.7) scale(0.85,1)" font-family="&quot;Liberation Sans&quot;, sans-serif" font-size="9" font-weight="bold" text-anchor="middle">0,75</text>
<text transform="translate(216.4,185.3) scale(0.85,1)" font-family="&quot;Liberation Sans&quot;, sans-serif" font-size="9" font-weight="bold" text-anchor="middle">bl</text>
<text transform="translate(216.4,194.9) scale(0.85,1)" font-family="&quot;Liberation Sans&quot;, sans-serif" font-size="9" font-weight="bold" text-anchor="middle">rt</text>
<polyline points="216.4,197 216.4,251" fill="none" stroke="#000" stroke-width="2"/>
<circle cx="216.4" cy="253.5" r="2.6" fill="#fff" stroke="#000" stroke-width="1.6"/>
<circle cx="200.3" cy="253.5" r="2.6" fill="#fff" stroke="#000" stroke-width="1.6"/>
<polyline points="200.3,251 200.3,239 178.2,239 178.2,262" fill="none" stroke="#000" stroke-width="2"/>
<text transform="translate(176.5,271.2) scale(0.85,1)" font-family="&quot;Liberation Sans&quot;, sans-serif" font-size="9" font-weight="bold" text-anchor="middle">0,75</text>
<text transform="translate(176.5,280.7) scale(0.85,1)" font-family="&quot;Liberation Sans&quot;, sans-serif" font-size="9" font-weight="bold" text-anchor="middle">bl</text>
<text transform="translate(176.5,290.2) scale(0.85,1)" font-family="&quot;Liberation Sans&quot;, sans-serif" font-size="9" font-weight="bold" text-anchor="middle">rt</text>
<line x1="178.2" y1="292" x2="178.2" y2="514" stroke="#000" stroke-width="2"/>
<polyline points="193.5,261.5 224.4,261.5 224.4,300.4 193.5,300.4 193.5,261.5" fill="none" stroke="#000" stroke-width="2" stroke-dasharray="7,3"/>
<line x1="200.3" y1="256" x2="200.3" y2="277.5" stroke="#000" stroke-width="2"/>
<line x1="216.4" y1="256" x2="216.4" y2="277.5" stroke="#000" stroke-width="2"/>
<line x1="199.5" y1="277.5" x2="217" y2="277.5" stroke="#000" stroke-width="3"/>
<text transform="translate(208,293.5) scale(0.9,1)" font-family="&quot;Liberation Sans&quot;, sans-serif" font-size="10" font-weight="bold" text-anchor="middle">p1</text>
<text x="214.4" y="319.6" font-family="&quot;Liberation Sans&quot;, sans-serif" font-size="17" font-weight="bold" text-anchor="middle">S31/1</text>
<text transform="translate(300.5,176.7) scale(0.85,1)" font-family="&quot;Liberation Sans&quot;, sans-serif" font-size="9" font-weight="bold" text-anchor="middle">0,75</text>
<text transform="translate(300.5,186.3) scale(0.85,1)" font-family="&quot;Liberation Sans&quot;, sans-serif" font-size="9" font-weight="bold" text-anchor="middle">rt</text>
<text transform="translate(300.5,195.9) scale(0.85,1)" font-family="&quot;Liberation Sans&quot;, sans-serif" font-size="9" font-weight="bold" text-anchor="middle">bl</text>
<text transform="translate(317.2,197.7) scale(0.85,1)" font-family="&quot;Liberation Sans&quot;, sans-serif" font-size="9" font-weight="bold" text-anchor="middle">0,75</text>
<text transform="translate(317.2,207.3) scale(0.85,1)" font-family="&quot;Liberation Sans&quot;, sans-serif" font-size="9" font-weight="bold" text-anchor="middle">ws</text>
<text transform="translate(317.2,216.9) scale(0.85,1)" font-family="&quot;Liberation Sans&quot;, sans-serif" font-size="9" font-weight="bold" text-anchor="middle">bl</text>
<text transform="translate(332.5,176.7) scale(0.85,1)" font-family="&quot;Liberation Sans&quot;, sans-serif" font-size="9" font-weight="bold" text-anchor="middle">0,75</text>
<text transform="translate(332.5,186.3) scale(0.85,1)" font-family="&quot;Liberation Sans&quot;, sans-serif" font-size="9" font-weight="bold" text-anchor="middle">bl</text>
<text transform="translate(332.5,195.9) scale(0.85,1)" font-family="&quot;Liberation Sans&quot;, sans-serif" font-size="9" font-weight="bold" text-anchor="middle">gn</text>
<line x1="301.2" y1="158" x2="301.2" y2="166" stroke="#000" stroke-width="2"/>
<line x1="301.2" y1="199" x2="301.2" y2="226" stroke="#000" stroke-width="2"/>
<line x1="317.2" y1="158" x2="317.2" y2="187" stroke="#000" stroke-width="2"/>
<line x1="317.2" y1="219" x2="317.2" y2="226" stroke="#000" stroke-width="2"/>
<line x1="332.8" y1="158" x2="332.8" y2="166" stroke="#000" stroke-width="2"/>
<line x1="332.8" y1="199" x2="332.8" y2="226" stroke="#000" stroke-width="2"/>
<rect x="289.6" y="224.3" width="53.3" height="11.3" fill="none" stroke="#000" stroke-width="2"/>
<path d="M298.2,232 L301.2,228 L304.2,232" fill="none" stroke="#000" stroke-width="1.4"/>
<path d="M314.2,232 L317.2,228 L320.2,232" fill="none" stroke="#000" stroke-width="1.4"/>
<path d="M329.8,232 L332.8,228 L335.8,232" fill="none" stroke="#000" stroke-width="1.4"/>
<text x="293" y="235" font-family="&quot;Liberation Sans&quot;, sans-serif" font-size="6" font-weight="bold" text-anchor="middle">1</text>
<text x="309" y="236" font-family="&quot;Liberation Sans&quot;, sans-serif" font-size="6" font-weight="bold" text-anchor="middle">3</text>
<text x="325" y="236" font-family="&quot;Liberation Sans&quot;, sans-serif" font-size="6" font-weight="bold" text-anchor="middle">2</text>
<text x="340" y="235" font-family="&quot;Liberation Sans&quot;, sans-serif" font-size="6" font-weight="bold" text-anchor="middle">1</text>
<polyline points="285.8,254.9 363.6,254.9 363.6,300.6 285.8,300.6 285.8,254.9" fill="none" stroke="#000" stroke-width="2" stroke-dasharray="9,3"/>
<line x1="325" y1="254.9" x2="325" y2="300.6" stroke="#000" stroke-width="2" stroke-dasharray="6,3"/>
<line x1="293" y1="239.1" x2="340.5" y2="239.1" stroke="#000" stroke-width="2"/>
<line x1="293" y1="236" x2="293" y2="239.1" stroke="#000" stroke-width="2"/>
<line x1="340.5" y1="236" x2="340.5" y2="239.1" stroke="#000" stroke-width="2"/>
<rect x="297.5" y="262.5" width="7.3" height="27.5" fill="#000" stroke="#000" stroke-width="1"/>
<rect x="292.4" y="263" width="2" height="26" fill="#000" stroke="#000" stroke-width="0.5"/>
<polyline points="302,290 302,292.7 317.1,292.7 317.1,236" fill="none" stroke="#000" stroke-width="2"/>
<line x1="301.2" y1="236" x2="301.2" y2="263" stroke="#000" stroke-width="2"/>
<rect x="339.8" y="263" width="8.6" height="14.6" fill="none" stroke="#000" stroke-width="2"/>
<line x1="340.5" y1="275" x2="347.6" y2="265" stroke="#000" stroke-width="1.8"/>
<polyline points="332.8,236 332.8,270 339.8,270" fill="none" stroke="#000" stroke-width="2"/>
<polyline points="348.4,270 365,270" fill="none" stroke="#000" stroke-width="2"/>
<line x1="344" y1="277.6" x2="344" y2="283" stroke="#000" stroke-width="1.6"/>
<path d="M340,282 L348,282 L344,288 Z" fill="#000" stroke="#000" stroke-width="1.4"/>
<path d="M340,292 L340,289 L348,289 L348,292" fill="none" stroke="#000" stroke-width="2"/>
<line x1="349.7" y1="225.3" x2="361.7" y2="225.3" stroke="#000" stroke-width="2.6"/>
<line x1="355.7" y1="225.3" x2="355.7" y2="252.6" stroke="#000" stroke-width="2"/>
<circle cx="355.7" cy="255.6" r="3" fill="#fff" stroke="#000" stroke-width="1.6"/>
<text x="281" y="319.6" font-family="&quot;Liberation Sans&quot;, sans-serif" font-size="17" font-weight="bold" text-anchor="middle">A9</text>
<text x="307" y="319.6" font-family="&quot;Liberation Sans&quot;, sans-serif" font-size="17" font-weight="bold" text-anchor="middle">l1</text>
<text x="345" y="319.6" font-family="&quot;Liberation Sans&quot;, sans-serif" font-size="17" font-weight="bold" text-anchor="middle">k1</text>
<text x="255.4" y="533.8" font-family="&quot;Liberation Sans&quot;, sans-serif" font-size="16" font-weight="bold" text-anchor="middle">N 1/2</text>
<line x1="236" y1="537" x2="275" y2="537" stroke="#000" stroke-width="2.6"/>
<polyline points="164.2,612.8 164.2,537 351,537 351,613.8" fill="none" stroke="#000" stroke-width="2" stroke-dasharray="10,4"/>
<line x1="164.2" y1="598.2" x2="243.2" y2="598.2" stroke="#000" stroke-width="2"/>
<line x1="273.4" y1="598.2" x2="350.6" y2="598.2" stroke="#000" stroke-width="2"/>
<polyline points="164.2,598.2 164.2,612.8 226.8,612.8 226.8,598.2" fill="none" stroke="#000" stroke-width="2"/>
<polyline points="241.6,598.2 241.6,612.8 273.4,612.8 273.4,598.2" fill="none" stroke="#000" stroke-width="2"/>
<polyline points="288.5,598.2 288.5,613.8 350.6,613.8 350.6,598.2" fill="none" stroke="#000" stroke-width="2"/>
<circle cx="256.6" cy="567" r="11.5" fill="none" stroke="#000" stroke-width="2"/>
<line x1="246" y1="567" x2="252" y2="567" stroke="#000" stroke-width="2"/>
<line x1="252" y1="560" x2="252" y2="574" stroke="#000" stroke-width="2"/>
<line x1="252" y1="563" x2="260" y2="556" stroke="#000" stroke-width="1.8"/>
<line x1="252" y1="571" x2="260" y2="578" stroke="#000" stroke-width="1.8"/>
<text transform="translate(171.8,594) scale(0.85,1)" font-family="&quot;Liberation Sans&quot;, sans-serif" font-size="9.5" font-weight="bold" text-anchor="middle">TD</text>
<text transform="translate(186.7,594) scale(0.85,1)" font-family="&quot;Liberation Sans&quot;, sans-serif" font-size="9.5" font-weight="bold" text-anchor="middle">15</text>
<text transform="translate(202.7,594) scale(0.85,1)" font-family="&quot;Liberation Sans&quot;, sans-serif" font-size="9.5" font-weight="bold" text-anchor="middle">16</text>
<text transform="translate(217.6,594) scale(0.85,1)" font-family="&quot;Liberation Sans&quot;, sans-serif" font-size="9.5" font-weight="bold" text-anchor="middle">31</text>
<text transform="translate(249.2,594) scale(0.85,1)" font-family="&quot;Liberation Sans&quot;, sans-serif" font-size="9.5" font-weight="bold" text-anchor="middle">7</text>
<text transform="translate(271.4,594) scale(0.85,1)" font-family="&quot;Liberation Sans&quot;, sans-serif" font-size="9.5" font-weight="bold" text-anchor="middle">31d(3)</text>
<line x1="172.2" y1="598.2" x2="172.2" y2="613" stroke="#000" stroke-width="1.8"/>
<path d="M169.2,603 L172.2,607 L175.2,603" fill="none" stroke="#000" stroke-width="1.4"/>
<line x1="187.8" y1="598.2" x2="187.8" y2="613" stroke="#000" stroke-width="1.8"/>
<path d="M184.8,603 L187.8,607 L190.8,603" fill="none" stroke="#000" stroke-width="1.4"/>
<line x1="203.2" y1="598.2" x2="203.2" y2="613" stroke="#000" stroke-width="1.8"/>
<path d="M200.2,603 L203.2,607 L206.2,603" fill="none" stroke="#000" stroke-width="1.4"/>
<line x1="218.3" y1="598.2" x2="218.3" y2="613" stroke="#000" stroke-width="1.8"/>
<path d="M215.3,603 L218.3,607 L221.3,603" fill="none" stroke="#000" stroke-width="1.4"/>
<line x1="249.2" y1="598.2" x2="249.2" y2="613" stroke="#000" stroke-width="1.8"/>
<path d="M246.2,603 L249.2,607 L252.2,603" fill="none" stroke="#000" stroke-width="1.4"/>
<line x1="265.3" y1="598.2" x2="265.3" y2="613" stroke="#000" stroke-width="1.8"/>
<path d="M262.3,603 L265.3,607 L268.3,603" fill="none" stroke="#000" stroke-width="1.4"/>
<line x1="295.6" y1="598.2" x2="295.6" y2="613" stroke="#000" stroke-width="1.8"/>
<path d="M292.6,603 L295.6,607 L298.6,603" fill="none" stroke="#000" stroke-width="1.4"/>
<line x1="311.7" y1="598.2" x2="311.7" y2="613" stroke="#000" stroke-width="1.8"/>
<path d="M308.7,603 L311.7,607 L314.7,603" fill="none" stroke="#000" stroke-width="1.4"/>
<line x1="327.4" y1="598.2" x2="327.4" y2="613" stroke="#000" stroke-width="1.8"/>
<path d="M324.4,603 L327.4,607 L330.4,603" fill="none" stroke="#000" stroke-width="1.4"/>
<line x1="342.5" y1="598.2" x2="342.5" y2="613" stroke="#000" stroke-width="1.8"/>
<path d="M339.5,603 L342.5,607 L345.5,603" fill="none" stroke="#000" stroke-width="1.4"/>
<polyline points="172.2,612.8 172.2,713.5 93,713.5" fill="none" stroke="#000" stroke-width="2"/>
<polyline points="187.8,612.8 187.8,720.8 93,720.8" fill="none" stroke="#000" stroke-width="2"/>
<polyline points="203.2,612.8 203.2,728.8 93,728.8" fill="none" stroke="#000" stroke-width="2"/>
<text transform="translate(92.5,723.7) scale(0.85,1)" font-family="&quot;Liberation Sans&quot;, sans-serif" font-size="8" font-weight="bold" text-anchor="start">sw</text>
<line x1="218.3" y1="612.8" x2="218.3" y2="623" stroke="#000" stroke-width="2"/>
<text transform="translate(220,632.7) scale(0.85,1)" font-family="&quot;Liberation Sans&quot;, sans-serif" font-size="9" font-weight="bold" text-anchor="middle">1,5</text>
<text transform="translate(220,643.2) scale(0.85,1)" font-family="&quot;Liberation Sans&quot;, sans-serif" font-size="9" font-weight="bold" text-anchor="middle">br</text>
<line x1="218.3" y1="646" x2="218.3" y2="674" stroke="#000" stroke-width="2"/>
<line x1="212.3" y1="674" x2="224.3" y2="674" stroke="#000" stroke-width="2.6"/>
<text transform="translate(218.3,685.1) scale(0.85,1)" font-family="&quot;Liberation Sans&quot;, sans-serif" font-size="8.5" font-weight="bold" text-anchor="middle">W3</text>
<polyline points="242.1,618.8 242.1,671.3 249.2,671.3" fill="none" stroke="#000" stroke-width="2"/>
<polyline points="242.1,618.8 265.3,618.8" fill="none" stroke="#000" stroke-width="2" stroke-dasharray="5,3"/>
<polyline points="265.3,612.8 265.3,675.8" fill="none" stroke="#000" stroke-width="2" stroke-dasharray="5,3"/>
<circle cx="265.3" cy="618.8" r="2.2" fill="#000"/>
<circle cx="265.3" cy="671.3" r="2.2" fill="#000"/>
<polyline points="258,671.3 265.3,671.3" fill="none" stroke="#000" stroke-width="2"/>
<line x1="249.2" y1="612.8" x2="249.2" y2="683" stroke="#000" stroke-width="2"/>
<polyline points="235.1,675.8 273.4,675.8 273.4,722.2 235.1,722.2 235.1,675.8" fill="none" stroke="#000" stroke-width="2" stroke-dasharray="8,4"/>
<rect x="246.7" y="683" width="7" height="28" fill="#000" stroke="#000" stroke-width="1"/>
<rect x="240.6" y="684" width="3.1" height="27" fill="#000" stroke="#000" stroke-width="0.5"/>
<polyline points="250,711 250,714.1 265.8,714.1 265.8,675.8" fill="none" stroke="#000" stroke-width="2"/>
<text x="290" y="702.8" font-family="&quot;Liberation Sans&quot;, sans-serif" font-size="16" font-weight="bold" text-anchor="middle">L5</text>
<line x1="295.6" y1="613" x2="295.6" y2="624" stroke="#000" stroke-width="2"/>
<text transform="translate(295.6,632.6) scale(0.85,1)" font-family="&quot;Liberation Sans&quot;, sans-serif" font-size="9" font-weight="bold" text-anchor="middle">0,75</text>
<text transform="translate(295.6,643.2) scale(0.85,1)" font-family="&quot;Liberation Sans&quot;, sans-serif" font-size="9" font-weight="bold" text-anchor="middle">br</text>
<text transform="translate(295.6,653.8) scale(0.85,1)" font-family="&quot;Liberation Sans&quot;, sans-serif" font-size="9" font-weight="bold" text-anchor="middle">rt</text>
<line x1="295.6" y1="656.6" x2="295.6" y2="680" stroke="#000" stroke-width="2" stroke-dasharray="3,1.5"/>
<circle cx="295.6" cy="680.9" r="3.3" fill="#000"/>
<line x1="311.7" y1="613" x2="311.7" y2="690" stroke="#000" stroke-width="2"/>
<text transform="translate(312.7,700.7) scale(0.85,1)" font-family="&quot;Liberation Sans&quot;, sans-serif" font-size="9" font-weight="bold" text-anchor="middle">0,75</text>
<text transform="translate(312.7,709.7) scale(0.85,1)" font-family="&quot;Liberation Sans&quot;, sans-serif" font-size="9" font-weight="bold" text-anchor="middle">br</text>
<text transform="translate(312.7,718.7) scale(0.85,1)" font-family="&quot;Liberation Sans&quot;, sans-serif" font-size="9" font-weight="bold" text-anchor="middle">ge</text>
<polyline points="311.7,726 314.6,1138.4 455,1138.3 467.5,1145" fill="none" stroke="#000" stroke-width="2"/>
<line x1="327.4" y1="613" x2="327.4" y2="623" stroke="#000" stroke-width="2"/>
<text transform="translate(326.9,632.6) scale(0.85,1)" font-family="&quot;Liberation Sans&quot;, sans-serif" font-size="9" font-weight="bold" text-anchor="middle">0,75</text>
<text transform="translate(326.9,643.2) scale(0.85,1)" font-family="&quot;Liberation Sans&quot;, sans-serif" font-size="9" font-weight="bold" text-anchor="middle">gn</text>
<text transform="translate(326.9,653.8) scale(0.85,1)" font-family="&quot;Liberation Sans&quot;, sans-serif" font-size="9" font-weight="bold" text-anchor="middle">sw</text>
<polyline points="327.4,658.7 327.4,722 401,722" fill="none" stroke="#000" stroke-width="2"/>
<path d="M327.4,670 L331,674.8 L327.4,679.6 L323.8,674.8 Z" fill="#000" stroke="#000" stroke-width="1"/>
<text x="333" y="693" font-family="&quot;Liberation Sans&quot;, sans-serif" font-size="9" font-weight="bold" text-anchor="middle">z</text>
<line x1="342.5" y1="613" x2="342.5" y2="632.5" stroke="#000" stroke-width="2"/>
<text transform="translate(344.5,643.7) scale(0.85,1)" font-family="&quot;Liberation Sans&quot;, sans-serif" font-size="9" font-weight="bold" text-anchor="middle">0,75</text>
<text transform="translate(344.5,654.7) scale(0.85,1)" font-family="&quot;Liberation Sans&quot;, sans-serif" font-size="9" font-weight="bold" text-anchor="middle">sw</text>
<text transform="translate(344.5,665.7) scale(0.85,1)" font-family="&quot;Liberation Sans&quot;, sans-serif" font-size="9" font-weight="bold" text-anchor="middle">ge</text>
<path d="M342.5,670 L346.1,674.8 L342.5,679.6 L338.9,674.8 Z" fill="#000" stroke="#000" stroke-width="1"/>
<polyline points="342.5,679 342.5,683.7 381.6,683.7" fill="none" stroke="#000" stroke-width="2"/>
<polyline points="249.7,752.5 401,752.5" fill="none" stroke="#000" stroke-width="2"/>
<line x1="392" y1="647" x2="392" y2="661" stroke="#000" stroke-width="2.6"/>
<text transform="translate(370,657.5) scale(0.9,1)" font-family="&quot;Liberation Sans&quot;, sans-serif" font-size="9" font-weight="bold" text-anchor="start">W11</text>
<line x1="392" y1="654" x2="433" y2="654" stroke="#000" stroke-width="2"/>
<text transform="translate(436.6,657.2) scale(0.9,1)" font-family="&quot;Liberation Sans&quot;, sans-serif" font-size="9" font-weight="bold" text-anchor="start">0,5 br</text>
<line x1="468.7" y1="654" x2="510.5" y2="654" stroke="#000" stroke-width="2"/>
<text transform="translate(383.9,686.9) scale(0.9,1)" font-family="&quot;Liberation Sans&quot;, sans-serif" font-size="9" font-weight="bold" text-anchor="start">0,75 gn</text>
<line x1="416" y1="683.7" x2="510.5" y2="683.7" stroke="#000" stroke-width="2"/>
<polyline points="511,645.7 505.3,645.7 505.3,692.2 511,692.2" fill="none" stroke="#000" stroke-width="2"/>
<polyline points="520.2,645.7 545.4,645.7 545.4,692.2 520.2,692.2" fill="none" stroke="#000" stroke-width="2" stroke-dasharray="8,3"/>
<path d="M514,650.5 L510.5,654 L514,657.5" fill="none" stroke="#000" stroke-width="1.8"/>
<path d="M514,680.2 L510.5,683.7 L514,687.2" fill="none" stroke="#000" stroke-width="1.8"/>
<polyline points="511,654 532.7,654 532.7,661" fill="none" stroke="#000" stroke-width="2"/>
<polyline points="511,683.7 532.7,683.7 532.7,677.3" fill="none" stroke="#000" stroke-width="2"/>
<rect x="528" y="661" width="9.4" height="16.3" fill="none" stroke="#000" stroke-width="2"/>
<text x="512" y="668" font-family="&quot;Liberation Sans&quot;, sans-serif" font-size="6" font-weight="bold" text-anchor="middle">2</text>
<text x="512" y="681" font-family="&quot;Liberation Sans&quot;, sans-serif" font-size="6" font-weight="bold" text-anchor="middle">1</text>
<text x="572.5" y="677.7" font-family="&quot;Liberation Sans&quot;, sans-serif" font-size="17" font-weight="bold" text-anchor="middle">R16/1</text>
<text transform="translate(402,726.2) scale(0.85,1)" font-family="&quot;Liberation Sans&quot;, sans-serif" font-size="9" font-weight="bold" text-anchor="start">0,75 gn/sw</text>
<line x1="451.5" y1="722.5" x2="482.4" y2="722.5" stroke="#000" stroke-width="2"/>
<polyline points="495,714 482.4,714 482.4,730 495,730" fill="none" stroke="#000" stroke-width="2"/>
<line x1="482.4" y1="723" x2="498" y2="723" stroke="#000" stroke-width="2"/>
<line x1="388.4" y1="732" x2="388.4" y2="744" stroke="#000" stroke-width="2.6"/>
<line x1="388.4" y1="738" x2="496" y2="738" stroke="#000" stroke-width="2"/>
<circle cx="498.5" cy="738" r="2.4" fill="#fff" stroke="#000" stroke-width="1.6"/>
<text transform="translate(402,756.2) scale(0.85,1)" font-family="&quot;Liberation Sans&quot;, sans-serif" font-size="9" font-weight="bold" text-anchor="start">0,75 gn/rt</text>
<line x1="449" y1="753" x2="482.4" y2="753" stroke="#000" stroke-width="2"/>
<polyline points="495,744 482.4,744 482.4,761 495,761" fill="none" stroke="#000" stroke-width="2"/>
<line x1="482.4" y1="753" x2="498" y2="753" stroke="#000" stroke-width="2"/>
<polyline points="498.5,707 545.4,707 545.4,769 498.5,769 498.5,707" fill="none" stroke="#000" stroke-width="2" stroke-dasharray="8,3"/>
<circle cx="498.5" cy="723" r="2.2" fill="#fff" stroke="#000" stroke-width="1.6"/>
<line x1="500.5" y1="723" x2="545.4" y2="723" stroke="#000" stroke-width="2"/>
<rect x="515" y="719" width="15" height="8" fill="none" stroke="#000" stroke-width="2"/>
<line x1="510" y1="731" x2="532" y2="715" stroke="#000" stroke-width="1.8"/>
<circle cx="545.4" cy="723" r="2" fill="#000"/>
<circle cx="498.5" cy="753" r="2.2" fill="#fff" stroke="#000" stroke-width="1.6"/>
<line x1="500.5" y1="753" x2="545.4" y2="753" stroke="#000" stroke-width="2"/>
<rect x="515" y="749" width="15" height="8" fill="none" stroke="#000" stroke-width="2"/>
<line x1="510" y1="761" x2="532" y2="745" stroke="#000" stroke-width="1.8"/>
<circle cx="545.4" cy="753" r="2" fill="#000"/>
<text x="573.5" y="745.1" font-family="&quot;Liberation Sans&quot;, sans-serif" font-size="17" font-weight="bold" text-anchor="middle">B11/2</text>
<text transform="translate(366.7,801.7) scale(0.9,1)" font-family="&quot;Liberation Sans&quot;, sans-serif" font-size="9" font-weight="bold" text-anchor="start">W12</text>
<line x1="387.3" y1="793.5" x2="387.3" y2="803.5" stroke="#000" stroke-width="2.6"/>
<line x1="387.3" y1="798.5" x2="425" y2="798.5" stroke="#000" stroke-width="2"/>
<text transform="translate(426,801.7) scale(0.85,1)" font-family="&quot;Liberation Sans&quot;, sans-serif" font-size="9" font-weight="bold" text-anchor="start">1,5br</text>
<line x1="447" y1="798.5" x2="486" y2="798.5" stroke="#000" stroke-width="2"/>
<circle cx="488.5" cy="798.5" r="2.6" fill="#fff" stroke="#000" stroke-width="1.6"/>
<polyline points="491.6,792 545.4,792 545.4,846.5 491.6,846.5 491.6,792" fill="none" stroke="#000" stroke-width="2" stroke-dasharray="8,3"/>
<polyline points="491,798.5 529.4,798.5 529.4,805" fill="none" stroke="#000" stroke-width="2"/>
<rect x="524.5" y="804" width="10" height="4.5" fill="#000" stroke="#000" stroke-width="1"/>
<circle cx="529.4" cy="819" r="9.8" fill="#fff" stroke="#000" stroke-width="2"/>
<text transform="translate(529.4,822.5) scale(0.85,1)" font-family="&quot;Liberation Sans&quot;, sans-serif" font-size="9" font-weight="bold" text-anchor="middle">M</text>
<rect x="524.5" y="829.5" width="10" height="4.5" fill="#000" stroke="#000" stroke-width="1"/>
<polyline points="529.4,833 529.4,839.6 491,839.6" fill="none" stroke="#000" stroke-width="2"/>
<circle cx="488.5" cy="839.6" r="2.6" fill="#fff" stroke="#000" stroke-width="1.6"/>
<rect x="500" y="815.7" width="13.4" height="6.8" fill="#fff" stroke="#000" stroke-width="1.6"/>
<rect x="500" y="815.7" width="6" height="6.8" fill="#000" stroke="#000" stroke-width="1"/>
<text x="573" y="829.6" font-family="&quot;Liberation Sans&quot;, sans-serif" font-size="17" font-weight="bold" text-anchor="middle">M 3/2</text>
<text transform="translate(366.7,871.4) scale(0.9,1)" font-family="&quot;Liberation Sans&quot;, sans-serif" font-size="9" font-weight="bold" text-anchor="start">W12</text>
<line x1="387.3" y1="863.2" x2="387.3" y2="873.2" stroke="#000" stroke-width="2.6"/>
<line x1="387.3" y1="868.2" x2="425" y2="868.2" stroke="#000" stroke-width="2"/>
<text transform="translate(426,871.4) scale(0.85,1)" font-family="&quot;Liberation Sans&quot;, sans-serif" font-size="9" font-weight="bold" text-anchor="start">1,5 br</text>
<line x1="447" y1="868.2" x2="486" y2="868.2" stroke="#000" stroke-width="2"/>
<circle cx="488.5" cy="868.2" r="2.6" fill="#fff" stroke="#000" stroke-width="1.6"/>
<polyline points="491.6,861.4 545.4,861.4 545.4,915.2 491.6,915.2 491.6,861.4" fill="none" stroke="#000" stroke-width="2" stroke-dasharray="8,3"/>
<polyline points="491,868.2 529.4,868.2 529.4,872.6" fill="none" stroke="#000" stroke-width="2"/>
<rect x="524.5" y="871.6" width="10" height="4.5" fill="#000" stroke="#000" stroke-width="1"/>
<circle cx="529.4" cy="886.6" r="9.8" fill="#fff" stroke="#000" stroke-width="2"/>
<text transform="translate(529.4,890.1) scale(0.85,1)" font-family="&quot;Liberation Sans&quot;, sans-serif" font-size="9" font-weight="bold" text-anchor="middle">M</text>
<rect x="524.5" y="897.1" width="10" height="4.5" fill="#000" stroke="#000" stroke-width="1"/>
<polyline points="529.4,900.6 529.4,907.2 491,907.2" fill="none" stroke="#000" stroke-width="2"/>
<circle cx="488.5" cy="907.2" r="2.6" fill="#fff" stroke="#000" stroke-width="1.6"/>
<rect x="500" y="883.3" width="13.4" height="6.8" fill="#fff" stroke="#000" stroke-width="1.6"/>
<rect x="500" y="883.3" width="6" height="6.8" fill="#000" stroke="#000" stroke-width="1"/>
<text x="573" y="893.8" font-family="&quot;Liberation Sans&quot;, sans-serif" font-size="17" font-weight="bold" text-anchor="middle">M 3/1</text>
<text transform="translate(430.8,842.8) scale(0.8,1)" font-family="&quot;Liberation Sans&quot;, sans-serif" font-size="9" font-weight="bold" text-anchor="start">1,5 sw/rt ws</text>
<polyline points="430,839.6 345.3,839.6 345.3,898.7 309,898.7 299.5,906" fill="none" stroke="#000" stroke-width="2"/>
<line x1="479.5" y1="839.6" x2="486" y2="839.6" stroke="#000" stroke-width="2"/>
<polyline points="299.5,907.2 430,907.2" fill="none" stroke="#000" stroke-width="2"/>
<text transform="translate(430.8,910.4) scale(0.8,1)" font-family="&quot;Liberation Sans&quot;, sans-serif" font-size="9" font-weight="bold" text-anchor="start">1,5 sw/rt ws</text>
<line x1="479.5" y1="907.2" x2="486" y2="907.2" stroke="#000" stroke-width="2"/>
<text x="287" y="891.1" font-family="&quot;Liberation Sans&quot;, sans-serif" font-size="17" font-weight="bold" text-anchor="middle">X36</text>
<rect x="283.5" y="895" width="16" height="22" fill="none" stroke="#000" stroke-width="1.6"/>
<circle cx="290" cy="906.7" r="2.2" fill="#fff" stroke="#000" stroke-width="1.6"/>
<line x1="120" y1="906.7" x2="174.6" y2="906.7" stroke="#000" stroke-width="2"/>
<text transform="translate(178,909.9) scale(0.85,1)" font-family="&quot;Liberation Sans&quot;, sans-serif" font-size="9" font-weight="bold" text-anchor="start">2,5 sw/rt ws</text>
<line x1="234" y1="906.7" x2="283.5" y2="906.7" stroke="#000" stroke-width="2"/>
<polyline points="270,1656 265.8,945.3 375.8,946" fill="none" stroke="#000" stroke-width="2"/>
<text transform="translate(377,949.2) scale(0.85,1)" font-family="&quot;Liberation Sans&quot;, sans-serif" font-size="9" font-weight="bold" text-anchor="start">0,75 rt/ws</text>
<line x1="421.7" y1="946" x2="481" y2="946" stroke="#000" stroke-width="2"/>
<polyline points="447,1052.8 329.2,1052.4 329.2,969.3 375.8,969.3" fill="none" stroke="#000" stroke-width="2"/>
<text transform="translate(377,972.2) scale(0.85,1)" font-family="&quot;Liberation Sans&quot;, sans-serif" font-size="9" font-weight="bold" text-anchor="start">0,75 rt/bl</text>
<line x1="418" y1="969" x2="481" y2="969" stroke="#000" stroke-width="2"/>
<polyline points="481,938 475.5,938 475.5,977 481,977" fill="none" stroke="#000" stroke-width="2"/>
<polyline points="490.4,938 546.6,938 546.6,977 490.4,977" fill="none" stroke="#000" stroke-width="2" stroke-dasharray="7,3"/>
<path d="M483,943 L480,946 L483,949" fill="none" stroke="#000" stroke-width="1.4"/>
<path d="M483,966 L480,969 L483,972" fill="none" stroke="#000" stroke-width="1.4"/>
<polyline points="481,946 507,946 507,953" fill="none" stroke="#000" stroke-width="2"/>
<polyline points="481,969 507,969 507,962" fill="none" stroke="#000" stroke-width="2"/>
<rect x="498.8" y="954" width="15.3" height="7.2" fill="none" stroke="#000" stroke-width="2"/>
<line x1="514.1" y1="957.5" x2="530" y2="957.5" stroke="#000" stroke-width="2.6"/>
<path d="M526,949.4 L534.1,949.4 L526,965.9 L534.1,965.9 Z" fill="none" stroke="#000" stroke-width="2.2"/>
<text x="568" y="963.7" font-family="&quot;Liberation Sans&quot;, sans-serif" font-size="17" font-weight="bold" text-anchor="middle">Y 6</text>
<text transform="translate(363,1010.5) scale(0.9,1)" font-family="&quot;Liberation Sans&quot;, sans-serif" font-size="9" font-weight="bold" text-anchor="start">W10</text>
<line x1="386" y1="1002" x2="386" y2="1012" stroke="#000" stroke-width="2.6"/>
<line x1="386" y1="1007" x2="402" y2="1007" stroke="#000" stroke-width="2"/>
<text transform="translate(403,1010.2) scale(0.85,1)" font-family="&quot;Liberation Sans&quot;, sans-serif" font-size="9" font-weight="bold" text-anchor="start">2,5 br</text>
<line x1="428.5" y1="1007" x2="447" y2="1007" stroke="#000" stroke-width="2"/>
<text transform="translate(378,1041.2) scale(0.85,1)" font-family="&quot;Liberation Sans&quot;, sans-serif" font-size="9" font-weight="bold" text-anchor="start">0,75 rs/rt</text>
<line x1="417" y1="1038" x2="447" y2="1038" stroke="#000" stroke-width="2"/>
<polyline points="79,1037.8 376,1038" fill="none" stroke="#000" stroke-width="2"/>
<text transform="translate(379,1064) scale(0.85,1)" font-family="&quot;Liberation Sans&quot;, sans-serif" font-size="9" font-weight="bold" text-anchor="start">1,5 rt/ge</text>
<polyline points="412,1060.8 437.7,1060.8 447,1067.7" fill="none" stroke="#000" stroke-width="2"/>
<polyline points="285.4,1656 282.5,1062.6 376,1061.5" fill="none" stroke="#000" stroke-width="2"/>
<polyline points="306.6,1145.5 306.6,1068.7 437,1068 447,1067.7" fill="none" stroke="#000" stroke-width="2"/>
<text transform="translate(379,1087) scale(0.85,1)" font-family="&quot;Liberation Sans&quot;, sans-serif" font-size="9" font-weight="bold" text-anchor="start">2,5 rt</text>
<line x1="403" y1="1083.8" x2="447" y2="1083.8" stroke="#000" stroke-width="2"/>
<polyline points="377,1083.5 294.2,1083 294.2,1068.2 232,1068" fill="none" stroke="#000" stroke-width="2"/>
<polyline points="455,984 439.6,984 439.6,1107 455,1107" fill="none" stroke="#000" stroke-width="2"/>
<line x1="439.6" y1="1092.6" x2="452" y2="1092.6" stroke="#000" stroke-width="1.6"/>
<polyline points="455,984 516.1,984 516.1,1106 455,1106" fill="none" stroke="#000" stroke-width="2" stroke-dasharray="9,3"/>
<line x1="455" y1="984" x2="455" y2="1106" stroke="#000" stroke-width="2" stroke-dasharray="6,3"/>
<path d="M450,989 L447,992 L450,995" fill="none" stroke="#000" stroke-width="1.5"/>
<line x1="447" y1="992" x2="459" y2="992" stroke="#000" stroke-width="1.6"/>
<text transform="translate(464,995.3) scale(0.8,1)" font-family="&quot;Liberation Sans&quot;, sans-serif" font-size="8.5" font-weight="bold" text-anchor="middle">30</text>
<path d="M450,1005 L447,1008 L450,1011" fill="none" stroke="#000" stroke-width="1.5"/>
<line x1="447" y1="1008" x2="459" y2="1008" stroke="#000" stroke-width="1.6"/>
<text transform="translate(464,1011.3) scale(0.8,1)" font-family="&quot;Liberation Sans&quot;, sans-serif" font-size="8.5" font-weight="bold" text-anchor="middle">86</text>
<path d="M450,1035 L447,1038 L450,1041" fill="none" stroke="#000" stroke-width="1.5"/>
<line x1="447" y1="1038" x2="459" y2="1038" stroke="#000" stroke-width="1.6"/>
<text transform="translate(464,1041.3) scale(0.8,1)" font-family="&quot;Liberation Sans&quot;, sans-serif" font-size="8.5" font-weight="bold" text-anchor="middle">85</text>
<path d="M450,1049.8 L447,1052.8 L450,1055.8" fill="none" stroke="#000" stroke-width="1.5"/>
<line x1="447" y1="1052.8" x2="459" y2="1052.8" stroke="#000" stroke-width="1.6"/>
<text transform="translate(464,1056.1) scale(0.8,1)" font-family="&quot;Liberation Sans&quot;, sans-serif" font-size="8.5" font-weight="bold" text-anchor="middle">87</text>
<path d="M450,1064.7 L447,1067.7 L450,1070.7" fill="none" stroke="#000" stroke-width="1.5"/>
<line x1="447" y1="1067.7" x2="459" y2="1067.7" stroke="#000" stroke-width="1.6"/>
<text transform="translate(464,1071) scale(0.8,1)" font-family="&quot;Liberation Sans&quot;, sans-serif" font-size="8.5" font-weight="bold" text-anchor="middle">87</text>
<path d="M450,1080.8 L447,1083.8 L450,1086.8" fill="none" stroke="#000" stroke-width="1.5"/>
<line x1="447" y1="1083.8" x2="459" y2="1083.8" stroke="#000" stroke-width="1.6"/>
<text transform="translate(464,1087.1) scale(0.8,1)" font-family="&quot;Liberation Sans&quot;, sans-serif" font-size="8.5" font-weight="bold" text-anchor="middle">30</text>
<path d="M450,1095.7 L447,1098.7 L450,1101.7" fill="none" stroke="#000" stroke-width="1.5"/>
<line x1="447" y1="1098.7" x2="459" y2="1098.7" stroke="#000" stroke-width="1.6"/>
<text transform="translate(464,1102) scale(0.8,1)" font-family="&quot;Liberation Sans&quot;, sans-serif" font-size="8.5" font-weight="bold" text-anchor="middle">87</text>
<circle cx="470.1" cy="991.6" r="2" fill="#000"/>
<polyline points="470.1,991.6 500.6,991.6 500.6,1017.8" fill="none" stroke="#000" stroke-width="2"/>
<circle cx="500.6" cy="1017.8" r="1.8" fill="#000"/>
<line x1="500.6" y1="1017.8" x2="505" y2="1031" stroke="#000" stroke-width="2.2"/>
<circle cx="500.6" cy="1033.3" r="1.8" fill="#000"/>
<line x1="500.6" y1="1033.3" x2="500.6" y2="1098.7" stroke="#000" stroke-width="2"/>
<polyline points="470,1007 483.5,1007" fill="none" stroke="#000" stroke-width="2"/>
<path d="M483.5,1002.5 L483.5,1011.5 L492,1007 Z" fill="#000" stroke="#000" stroke-width="1.5"/>
<line x1="493" y1="1002.5" x2="493" y2="1011.5" stroke="#000" stroke-width="2"/>
<line x1="493" y1="1007" x2="531.7" y2="1007" stroke="#000" stroke-width="2"/>
<circle cx="517.7" cy="1007" r="1.6" fill="#000"/>
<polyline points="477,1007 477,1022" fill="none" stroke="#000" stroke-width="2"/>
<rect x="469.6" y="1022" width="15.4" height="7.5" fill="none" stroke="#000" stroke-width="2"/>
<line x1="471" y1="1028.5" x2="483.5" y2="1023" stroke="#000" stroke-width="1.4"/>
<polyline points="477,1029.5 477,1037 468,1037" fill="none" stroke="#000" stroke-width="2"/>
<line x1="485" y1="1025.5" x2="500" y2="1025.5" stroke="#000" stroke-width="1.4" stroke-dasharray="2,1.5"/>
<line x1="470" y1="1052.8" x2="500.6" y2="1052.8" stroke="#000" stroke-width="2"/>
<circle cx="500.6" cy="1052.8" r="1.8" fill="#000"/>
<line x1="470" y1="1067.7" x2="500.6" y2="1067.7" stroke="#000" stroke-width="2"/>
<circle cx="500.6" cy="1067.7" r="1.8" fill="#000"/>
<line x1="470" y1="1083.8" x2="500.6" y2="1083.8" stroke="#000" stroke-width="2"/>
<circle cx="500.6" cy="1083.8" r="1.8" fill="#000"/>
<line x1="470" y1="1098.7" x2="500.6" y2="1098.7" stroke="#000" stroke-width="2"/>
<circle cx="500.6" cy="1098.7" r="1.8" fill="#000"/>
<line x1="470" y1="1083.8" x2="531.7" y2="1083.8" stroke="#000" stroke-width="2"/>
<circle cx="517.7" cy="1083.8" r="1.6" fill="#000"/>
<polyline points="531.7,1000 546.6,1000 546.6,1090.6 531.7,1090.6 531.7,1000" fill="none" stroke="#000" stroke-width="2" stroke-dasharray="7,3"/>
<polyline points="531.7,1008 538.6,1008 538.6,1038" fill="none" stroke="#000" stroke-width="2"/>
<rect x="534.5" y="1038" width="8" height="13.7" fill="none" stroke="#000" stroke-width="2"/>
<polyline points="538.6,1051.7 538.6,1083.8 531.7,1083.8" fill="none" stroke="#000" stroke-width="2"/>
<text x="566.5" y="1056.6" font-family="&quot;Liberation Sans&quot;, sans-serif" font-size="17" font-weight="bold" text-anchor="middle">K1/1</text>
<circle cx="555.8" cy="1082.6" r="1.3" fill="#000"/>
<text transform="translate(380.4,1149.6) scale(0.85,1)" font-family="&quot;Liberation Sans&quot;, sans-serif" font-size="9" font-weight="bold" text-anchor="start">0,75 br/ge</text>
<polyline points="316.6,1656 316,1146.4 377,1146.4" fill="none" stroke="#000" stroke-width="2"/>
<line x1="425" y1="1146.4" x2="467.5" y2="1146.4" stroke="#000" stroke-width="2"/>
<text transform="translate(367.8,1165.6) scale(0.9,1)" font-family="&quot;Liberation Sans&quot;, sans-serif" font-size="8.5" font-weight="bold" text-anchor="start">W11</text>
<line x1="392" y1="1157.4" x2="392" y2="1167.4" stroke="#000" stroke-width="2.6"/>
<line x1="392" y1="1162.4" x2="424" y2="1162.4" stroke="#000" stroke-width="2"/>
<text transform="translate(426,1165.6) scale(0.85,1)" font-family="&quot;Liberation Sans&quot;, sans-serif" font-size="9" font-weight="bold" text-anchor="start">0,75 br</text>
<line x1="454" y1="1162.4" x2="467.5" y2="1162.4" stroke="#000" stroke-width="2"/>
<polyline points="332,1656 330.6,1177 377,1177" fill="none" stroke="#000" stroke-width="2"/>
<text transform="translate(380.4,1179.2) scale(0.85,1)" font-family="&quot;Liberation Sans&quot;, sans-serif" font-size="9" font-weight="bold" text-anchor="start">0,75 gn/ge</text>
<line x1="420" y1="1176" x2="467.5" y2="1176" stroke="#000" stroke-width="2"/>
<rect x="467.3" y="1134.8" width="14.5" height="52.4" fill="none" stroke="#000" stroke-width="2"/>
<circle cx="471.4" cy="1146.4" r="2" fill="#fff" stroke="#000" stroke-width="1.6"/>
<text x="477" y="1145.4" font-family="&quot;Liberation Sans&quot;, sans-serif" font-size="6" font-weight="bold" text-anchor="middle">1</text>
<line x1="481.3" y1="1146.4" x2="500.7" y2="1146.4" stroke="#000" stroke-width="2"/>
<circle cx="471.4" cy="1162.4" r="2" fill="#fff" stroke="#000" stroke-width="1.6"/>
<text x="477" y="1161.4" font-family="&quot;Liberation Sans&quot;, sans-serif" font-size="6" font-weight="bold" text-anchor="middle">2</text>
<line x1="481.3" y1="1162.4" x2="500.7" y2="1162.4" stroke="#000" stroke-width="2"/>
<circle cx="471.4" cy="1176.8" r="2" fill="#fff" stroke="#000" stroke-width="1.6"/>
<text x="477" y="1175.8" font-family="&quot;Liberation Sans&quot;, sans-serif" font-size="6" font-weight="bold" text-anchor="middle">3</text>
<line x1="481.3" y1="1176.8" x2="500.7" y2="1176.8" stroke="#000" stroke-width="2"/>
<polyline points="501,1137.4 549.1,1137.4 549.1,1184 501,1184 501,1137.4" fill="none" stroke="#000" stroke-width="2" stroke-dasharray="14,2"/>
<path d="M503,1143 L500,1146.4 L503,1150" fill="none" stroke="#000" stroke-width="1.4"/>
<path d="M503,1172 L500,1176 L503,1180" fill="none" stroke="#000" stroke-width="1.4"/>
<text transform="translate(509,1150) scale(0.8,1)" font-family="&quot;Liberation Sans&quot;, sans-serif" font-size="8" font-weight="bold" text-anchor="middle">L1</text>
<text transform="translate(510,1179.5) scale(0.8,1)" font-family="&quot;Liberation Sans&quot;, sans-serif" font-size="8" font-weight="bold" text-anchor="middle">VL</text>
<polyline points="517,1146.4 524.2,1146.4 524.2,1158" fill="none" stroke="#000" stroke-width="2"/>
<path d="M524,1142 L530,1145 L524,1148 Z" fill="#000" stroke="#000" stroke-width="1.5"/>
<path d="M515,1155 Q520,1152 524.2,1152" fill="none" stroke="#000" stroke-width="2.2"/>
<line x1="481.3" y1="1161.8" x2="530.5" y2="1161.8" stroke="#000" stroke-width="2"/>
<line x1="536.7" y1="1161.8" x2="542.9" y2="1161.8" stroke="#000" stroke-width="2"/>
<polyline points="518,1176.8 538.8,1176.8 538.8,1158" fill="none" stroke="#000" stroke-width="2"/>
<circle cx="538.5" cy="1156" r="1.8" fill="#000"/>
<text x="527" y="1210.9" font-family="&quot;Liberation Sans&quot;, sans-serif" font-size="17" font-weight="bold" text-anchor="middle">S29/2</text>
<polyline points="111,1160 110.4,1238.7 377,1239" fill="none" stroke="#000" stroke-width="2"/>
<text transform="translate(380.4,1242.2) scale(0.8,1)" font-family="&quot;Liberation Sans&quot;, sans-serif" font-size="9" font-weight="bold" text-anchor="start">0,75 sw/rt ws</text>
<line x1="437" y1="1239" x2="442.3" y2="1239" stroke="#000" stroke-width="2"/>
<text transform="translate(370,1265.2) scale(0.9,1)" font-family="&quot;Liberation Sans&quot;, sans-serif" font-size="8.5" font-weight="bold" text-anchor="start">W10</text>
<line x1="393" y1="1257" x2="393" y2="1267" stroke="#000" stroke-width="2.6"/>
<text transform="translate(395.3,1265.2) scale(0.85,1)" font-family="&quot;Liberation Sans&quot;, sans-serif" font-size="9" font-weight="bold" text-anchor="start">0,75 br</text>
<line x1="422" y1="1262" x2="442.3" y2="1262" stroke="#000" stroke-width="2"/>
<rect x="442.3" y="1229" width="14.9" height="43.4" fill="none" stroke="#000" stroke-width="2"/>
<circle cx="446" cy="1239" r="2" fill="#fff" stroke="#000" stroke-width="1.6"/>
<circle cx="446" cy="1262" r="2" fill="#fff" stroke="#000" stroke-width="1.6"/>
<line x1="457.2" y1="1239" x2="480" y2="1239" stroke="#000" stroke-width="2"/>
<line x1="457.2" y1="1262" x2="480" y2="1262" stroke="#000" stroke-width="2"/>
<polyline points="479.7,1239 495.8,1239 495.8,1245 488,1245 488,1253.5 495.8,1253.5 495.8,1262 479.7,1262" fill="none" stroke="#000" stroke-width="2"/>
<line x1="393" y1="1272.5" x2="393" y2="1282.5" stroke="#000" stroke-width="2.6"/>
<line x1="393" y1="1277.5" x2="478" y2="1277.5" stroke="#000" stroke-width="2"/>
<circle cx="480" cy="1277.5" r="2.5" fill="#fff" stroke="#000" stroke-width="1.6"/>
<polyline points="457,1283 444,1283 444,1302 457,1302" fill="none" stroke="#000" stroke-width="2"/>
<polyline points="362.6,1641 362.8,1293 380,1293" fill="none" stroke="#000" stroke-width="2"/>
<polyline points="362.6,1641 362.8,1300" fill="none" stroke="#000" stroke-width="3.8" stroke-dasharray="6,3"/>
<line x1="362.6" y1="1641" x2="377.9" y2="1648.6" stroke="#000" stroke-width="2"/>
<circle cx="377.9" cy="1648.6" r="2.6" fill="#000"/>
<text x="383" y="1652" font-family="&quot;Liberation Sans&quot;, sans-serif" font-size="10" font-weight="bold" text-anchor="middle">z</text>
<polyline points="406,1293 444,1293" fill="none" stroke="#000" stroke-width="2" stroke-dasharray="10,1.5"/>
<text transform="translate(383,1296.2) scale(0.85,1)" font-family="&quot;Liberation Sans&quot;, sans-serif" font-size="9" font-weight="bold" text-anchor="start">1,0 gn</text>
<polyline points="444,1293 527.4,1293 527.4,1259.7" fill="none" stroke="#000" stroke-width="2"/>
<polyline points="479.7,1231 550,1231 550,1300 479.7,1300 479.7,1231" fill="none" stroke="#000" stroke-width="2" stroke-dasharray="8,4"/>
<line x1="526.3" y1="1231" x2="526.3" y2="1245" stroke="#000" stroke-width="2"/>
<line x1="515" y1="1239" x2="543" y2="1261.8" stroke="#000" stroke-width="2"/>
<line x1="516" y1="1249" x2="538.8" y2="1249" stroke="#000" stroke-width="1.8" stroke-dasharray="3,1.5"/>
<line x1="516" y1="1253.5" x2="538.8" y2="1253.5" stroke="#000" stroke-width="1.8"/>
<text x="519" y="1323.1" font-family="&quot;Liberation Sans&quot;, sans-serif" font-size="17" font-weight="bold" text-anchor="middle">G3/2</text>
<polyline points="377.9,1648 376.4,1600 376.4,1450.6 399,1450.6" fill="none" stroke="#000" stroke-width="2"/>
<text transform="translate(401,1453) scale(0.85,1)" font-family="&quot;Liberation Sans&quot;, sans-serif" font-size="9" font-weight="bold" text-anchor="start">0,75 br</text>
<line x1="428" y1="1449.8" x2="456" y2="1449.8" stroke="#000" stroke-width="2"/>
<polyline points="401.2,1656 399.7,1600 399.7,1465 401,1465" fill="none" stroke="#000" stroke-width="2"/>
<text transform="translate(402,1467.9) scale(0.8,1)" font-family="&quot;Liberation Sans&quot;, sans-serif" font-size="9" font-weight="bold" text-anchor="start">0,75 bl/sw</text>
<line x1="449" y1="1464.7" x2="456" y2="1464.7" stroke="#000" stroke-width="2"/>
<polyline points="421.7,1524.8 408.4,1524.8 408.4,1495 456,1495" fill="none" stroke="#000" stroke-width="2"/>
<polyline points="471,1440.5 455.5,1440.5 455.5,1501.4 471,1501.4" fill="none" stroke="#000" stroke-width="2"/>
<path d="M465.5,1446.5 L462.2,1449.7 L465.5,1452.9" fill="none" stroke="#000" stroke-width="1.6"/>
<path d="M465.5,1460.8 L462.2,1464 L465.5,1467.2" fill="none" stroke="#000" stroke-width="1.6"/>
<path d="M465.5,1491.1 L462.2,1494.3 L465.5,1497.5" fill="none" stroke="#000" stroke-width="1.6"/>
<line x1="456" y1="1449.7" x2="462.2" y2="1449.7" stroke="#000" stroke-width="2"/>
<line x1="456" y1="1464" x2="462.2" y2="1464" stroke="#000" stroke-width="2"/>
<line x1="456" y1="1494.3" x2="462.2" y2="1494.3" stroke="#000" stroke-width="2"/>
<polyline points="471,1439.7 550,1439.7 550,1501.4 471,1501.4" fill="none" stroke="#000" stroke-width="2" stroke-dasharray="8,4"/>
<line x1="471" y1="1439.7" x2="471" y2="1501.4" stroke="#000" stroke-width="2" stroke-dasharray="6,3"/>
<polyline points="462.6,1449.7 509.7,1449.7 509.7,1464 502.1,1464" fill="none" stroke="#000" stroke-width="2"/>
<line x1="462.6" y1="1464" x2="485.3" y2="1464" stroke="#000" stroke-width="2"/>
<rect x="485.3" y="1459.4" width="16.8" height="6.7" fill="none" stroke="#000" stroke-width="2"/>
<line x1="486.1" y1="1454.4" x2="489" y2="1459.4" stroke="#000" stroke-width="2"/>
<line x1="462.6" y1="1494.3" x2="485.3" y2="1494.3" stroke="#000" stroke-width="2"/>
<rect x="485.3" y="1490.5" width="15.1" height="6.7" fill="none" stroke="#000" stroke-width="2"/>
<polyline points="500.4,1493.5 507.1,1493.5 507.1,1474.5" fill="none" stroke="#000" stroke-width="2"/>
<path d="M505,1474 L510,1474.5 L506.5,1471 Z" fill="#000" stroke="#000" stroke-width="1.5"/>
<line x1="494" y1="1490.5" x2="497" y2="1486" stroke="#000" stroke-width="1.8"/>
<path d="M542.4,1463.6 L519.7,1469.5 L519.7,1480.4 L542.4,1486.3 L542.4,1472" fill="none" stroke="#000" stroke-width="2"/>
<line x1="524.5" y1="1471" x2="524.5" y2="1479" stroke="#000" stroke-width="1.5"/>
<line x1="530" y1="1475" x2="535" y2="1475" stroke="#000" stroke-width="1.8"/>
<text x="570.5" y="1482.1" font-family="&quot;Liberation Sans&quot;, sans-serif" font-size="17" font-weight="bold" text-anchor="middle">B2</text>
<text transform="translate(422.8,1528.6) scale(0.8,1)" font-family="&quot;Liberation Sans&quot;, sans-serif" font-size="9" font-weight="bold" text-anchor="start">0,75 bl/gn</text>
<line x1="463" y1="1531.5" x2="476" y2="1524" stroke="#000" stroke-width="2"/>
<polyline points="409.9,1656 408.4,1532 421.5,1532" fill="none" stroke="#000" stroke-width="2"/>
<polyline points="424.5,1656 424.5,1612" fill="none" stroke="#000" stroke-width="2"/>
<polyline points="424,1576 423.7,1539.4 472,1539.4" fill="none" stroke="#000" stroke-width="2"/>
<text transform="translate(432,1559.6) scale(0.85,1)" font-family="&quot;Liberation Sans&quot;, sans-serif" font-size="9" font-weight="bold" text-anchor="start">0,75 br</text>
<path d="M377.9,1648 Q385.1,1640 385.1,1625 L385.1,1556.2 L430,1556.2" fill="none" stroke="#000" stroke-width="2"/>
<text transform="translate(424,1587.2) scale(0.85,1)" font-family="&quot;Liberation Sans&quot;, sans-serif" font-size="9" font-weight="bold" text-anchor="middle">0,75</text>
<text transform="translate(424,1598) scale(0.85,1)" font-family="&quot;Liberation Sans&quot;, sans-serif" font-size="9" font-weight="bold" text-anchor="middle">bl</text>
<text transform="translate(424,1608.8) scale(0.85,1)" font-family="&quot;Liberation Sans&quot;, sans-serif" font-size="9" font-weight="bold" text-anchor="middle">rt</text>
<polyline points="480,1517 472.3,1517 472.3,1562.8 480,1562.8" fill="none" stroke="#000" stroke-width="2"/>
<polyline points="487,1516.6 550,1516.6 550,1562.8 487,1562.8" fill="none" stroke="#000" stroke-width="2" stroke-dasharray="8,4"/>
<line x1="487" y1="1516.6" x2="487" y2="1562.8" stroke="#000" stroke-width="2" stroke-dasharray="5,3"/>
<path d="M480,1521.8 L476.8,1525 L480,1528.2" fill="none" stroke="#000" stroke-width="1.6"/>
<path d="M480,1536.0 L476.8,1539.2 L480,1542.4" fill="none" stroke="#000" stroke-width="1.6"/>
<path d="M480,1552.8 L476.8,1556 L480,1559.2" fill="none" stroke="#000" stroke-width="1.6"/>
<polyline points="480.3,1525 529,1525 529,1531.7" fill="none" stroke="#000" stroke-width="2"/>
<rect x="525.6" y="1531.7" width="8.4" height="15.1" fill="none" stroke="#000" stroke-width="2"/>
<polyline points="529,1546.8 529,1556" fill="none" stroke="#000" stroke-width="2"/>
<line x1="463.4" y1="1556.2" x2="529" y2="1556" stroke="#000" stroke-width="2"/>
<line x1="510.1" y1="1525" x2="510.1" y2="1532" stroke="#000" stroke-width="2"/>
<line x1="510.1" y1="1546.4" x2="510.1" y2="1556" stroke="#000" stroke-width="2"/>
<rect x="506.3" y="1532" width="7.6" height="14.4" fill="none" stroke="#000" stroke-width="2"/>
<line x1="508" y1="1537" x2="521.4" y2="1533.8" stroke="#000" stroke-width="1.8"/>
<line x1="480" y1="1539.2" x2="497" y2="1539.2" stroke="#000" stroke-width="2"/>
<circle cx="499.6" cy="1539.2" r="2.5" fill="#fff" stroke="#000" stroke-width="1.6"/>
<line x1="502.1" y1="1539.2" x2="506.3" y2="1539.2" stroke="#000" stroke-width="2"/>
<text x="573.5" y="1546.1" font-family="&quot;Liberation Sans&quot;, sans-serif" font-size="17" font-weight="bold" text-anchor="middle">B18</text>
<polyline points="139.6,514 143.8,1108.3 78,1108.3" fill="none" stroke="#000" stroke-width="2"/>
<polyline points="147.9,506 151.8,1000 153.5,1400 154.5,1525" fill="none" stroke="#000" stroke-width="2"/>
<polyline points="156.1,514 159.8,942.9 84,942.9" fill="none" stroke="#000" stroke-width="2"/>
<polyline points="162.9,506 99,506" fill="none" stroke="#000" stroke-width="2"/>
<polyline points="178.2,514 99,514" fill="none" stroke="#000" stroke-width="2"/>
<text x="104.7" y="650.8" font-family="&quot;Liberation Sans&quot;, sans-serif" font-size="17" font-weight="bold" text-anchor="middle">R4</text>
<polyline points="92.8,745.9 133.6,745.9" fill="none" stroke="#000" stroke-width="2"/>
<line x1="133.6" y1="745.9" x2="133.6" y2="869" stroke="#000" stroke-width="2" stroke-dasharray="14,4"/>
<polyline points="92,753.2 124.1,753.2 124.1,816" fill="none" stroke="#000" stroke-width="2"/>
<line x1="125" y1="840" x2="125.6" y2="869" stroke="#000" stroke-width="2"/>
<text transform="translate(125.5,832) scale(0.85,1)" font-family="&quot;Liberation Sans&quot;, sans-serif" font-size="9.5" font-weight="bold" text-anchor="middle">50</text>
<polyline points="92,761.2 116.8,761.2 117.5,869" fill="none" stroke="#000" stroke-width="2"/>
<polyline points="92,775.8 99.3,775.8 100.8,868" fill="none" stroke="#000" stroke-width="2"/>
<polyline points="88.4,815 95,815 95,845 88.4,845" fill="none" stroke="#000" stroke-width="2"/>
<text transform="translate(101.5,860) scale(0.85,1)" font-family="&quot;Liberation Sans&quot;, sans-serif" font-size="9.5" font-weight="bold" text-anchor="middle">30</text>
<text transform="translate(115.4,860) scale(0.85,1)" font-family="&quot;Liberation Sans&quot;, sans-serif" font-size="9.5" font-weight="bold" text-anchor="middle">87</text>
<line x1="87.7" y1="868.3" x2="135" y2="868.3" stroke="#000" stroke-width="2"/>
<line x1="86.2" y1="886.5" x2="135" y2="886.5" stroke="#000" stroke-width="2"/>
<line x1="135" y1="872" x2="135" y2="886.5" stroke="#000" stroke-width="2"/>
<line x1="100.8" y1="868.3" x2="100.8" y2="880" stroke="#000" stroke-width="1.8"/>
<path d="M97.8,875 L100.8,879 L103.8,875" fill="none" stroke="#000" stroke-width="1.4"/>
<line x1="117.5" y1="868.3" x2="117.5" y2="880" stroke="#000" stroke-width="1.8"/>
<path d="M114.5,875 L117.5,879 L120.5,875" fill="none" stroke="#000" stroke-width="1.4"/>
<line x1="125.6" y1="868.3" x2="125.6" y2="880" stroke="#000" stroke-width="1.8"/>
<path d="M122.6,875 L125.6,879 L128.6,875" fill="none" stroke="#000" stroke-width="1.4"/>
<polyline points="101.5,880 102.2,1068.2 156,1068.2" fill="none" stroke="#000" stroke-width="2"/>
<path d="M117.5,880 Q110,888 109.5,897 L111,1238.7" fill="none" stroke="#000" stroke-width="2"/>
<polyline points="117.5,880 118.3,905.4 174.6,906.7" fill="none" stroke="#000" stroke-width="2"/>
<polyline points="125.6,880 125.6,1082.8 78.2,1082.8" fill="none" stroke="#000" stroke-width="2"/>
<polyline points="80.4,1012.8 205.3,1013 209.4,1525" fill="none" stroke="#000" stroke-width="2"/>
<polyline points="79,1028.9 198.4,1029.8 200.4,1562" fill="none" stroke="#000" stroke-width="2"/>
<polyline points="79,1052.2 183.1,1052.2 186,1525" fill="none" stroke="#000" stroke-width="2"/>
<polyline points="78,1090.8 120.5,1090.8 123.4,1525" fill="none" stroke="#000" stroke-width="2"/>
<polyline points="78,1115.6 136.5,1115.6 139.5,1562" fill="none" stroke="#000" stroke-width="2"/>
<polyline points="77,1130.9 167.8,1130.9 170,1562" fill="none" stroke="#000" stroke-width="2"/>
<polyline points="77.5,1145.5 306.6,1145.5" fill="none" stroke="#000" stroke-width="2"/>
<polyline points="76.8,1155 298.6,1155.1 301.5,1562" fill="none" stroke="#000" stroke-width="2"/>
<text transform="translate(82.6,1163) scale(0.8,1)" font-family="&quot;Liberation Sans&quot;, sans-serif" font-size="7" font-weight="bold" text-anchor="start">W11</text>
<polyline points="249.7,752.5 251.4,1000 255,1672" fill="none" stroke="#000" stroke-width="2"/>
<text x="226.8" y="1054.9" font-family="&quot;Liberation Sans&quot;, sans-serif" font-size="17" font-weight="bold" text-anchor="middle">X35</text>
<polyline points="216.2,1058.2 221,1058.2" fill="none" stroke="#000" stroke-width="2"/>
<polyline points="236,1058.2 241,1058.2" fill="none" stroke="#000" stroke-width="2"/>
<polyline points="218,1073 218,1086.6 240,1086.6 240,1073" fill="none" stroke="#000" stroke-width="2"/>
<line x1="228.5" y1="1068" x2="228.5" y2="1086.6" stroke="#000" stroke-width="2.2"/>
<circle cx="227.9" cy="1067.7" r="2.3" fill="#fff" stroke="#000" stroke-width="1.6"/>
<text transform="translate(157.6,1071.2) scale(0.85,1)" font-family="&quot;Liberation Sans&quot;, sans-serif" font-size="9" font-weight="bold" text-anchor="start">2,5 rt</text>
<line x1="179" y1="1068" x2="232" y2="1068" stroke="#000" stroke-width="2"/>
<polyline points="72.6,1354.6 107,1354.6 107.4,1656" fill="none" stroke="#000" stroke-width="2"/>
<polyline points="70.3,1432 91,1432 92,1656" fill="none" stroke="#000" stroke-width="2"/>
<polyline points="70,1454.6 75.6,1454.6 75.9,1656" fill="none" stroke="#000" stroke-width="2"/>
<circle cx="30.5" cy="375" r="0.7" fill="#000"/>
<circle cx="64" cy="443" r="0.7" fill="#000"/>
<circle cx="119.5" cy="607.5" r="0.7" fill="#000"/>
<circle cx="5" cy="1417" r="0.7" fill="#000"/>
<circle cx="405" cy="598" r="0.6" fill="#000"/>
<circle cx="775" cy="718" r="0.6" fill="#000"/>
<line x1="68.2" y1="1640.2" x2="441" y2="1640.2" stroke="#000" stroke-width="2"/>
<line x1="68.2" y1="1640.2" x2="68.2" y2="1663.6" stroke="#000" stroke-width="2"/>
<line x1="441" y1="1640.2" x2="441" y2="1663.6" stroke="#000" stroke-width="2"/>
<line x1="68.2" y1="1663.6" x2="219.7" y2="1663.6" stroke="#000" stroke-width="2"/>
<line x1="235.7" y1="1663.6" x2="346" y2="1663.6" stroke="#000" stroke-width="2"/>
<line x1="353" y1="1663.6" x2="441" y2="1663.6" stroke="#000" stroke-width="2"/>
<polyline points="68.2,1663.6 68.2,1741.2 441,1741.2 441,1663.6" fill="none" stroke="#000" stroke-width="2" stroke-dasharray="40,5"/>
<circle cx="236.3" cy="1702" r="11.2" fill="none" stroke="#000" stroke-width="2"/>
<path d="M231.5,1688.5 L241,1702 L231.5,1715.5" fill="none" stroke="#000" stroke-width="2"/>
<line x1="241" y1="1702" x2="250" y2="1702" stroke="#000" stroke-width="1.8"/>
<text x="238.8" y="1765" font-family="&quot;Liberation Sans&quot;, sans-serif" font-size="16" font-weight="bold" text-anchor="middle">N3</text>
<line x1="75.9" y1="1640.2" x2="75.9" y2="1655" stroke="#000" stroke-width="1.8"/>
<path d="M72.9,1656 Q75.9,1651 78.9,1656" fill="none" stroke="#000" stroke-width="1.4"/>
<text transform="translate(78.4,1662) scale(0.8,1)" font-family="&quot;Liberation Sans&quot;, sans-serif" font-size="6.5" font-weight="bold" text-anchor="middle">10</text>
<line x1="92" y1="1640.2" x2="92" y2="1655" stroke="#000" stroke-width="1.8"/>
<path d="M89,1656 Q92,1651 95,1656" fill="none" stroke="#000" stroke-width="1.4"/>
<text transform="translate(94.5,1662) scale(0.8,1)" font-family="&quot;Liberation Sans&quot;, sans-serif" font-size="6.5" font-weight="bold" text-anchor="middle">11</text>
<line x1="107.4" y1="1640.2" x2="107.4" y2="1655" stroke="#000" stroke-width="1.8"/>
<path d="M104.4,1656 Q107.4,1651 110.4,1656" fill="none" stroke="#000" stroke-width="1.4"/>
<text transform="translate(109.9,1662) scale(0.8,1)" font-family="&quot;Liberation Sans&quot;, sans-serif" font-size="6.5" font-weight="bold" text-anchor="middle">26</text>
<line x1="123.4" y1="1640.2" x2="123.4" y2="1655" stroke="#000" stroke-width="1.8"/>
<path d="M120.4,1656 Q123.4,1651 126.4,1656" fill="none" stroke="#000" stroke-width="1.4"/>
<text transform="translate(125.9,1662) scale(0.8,1)" font-family="&quot;Liberation Sans&quot;, sans-serif" font-size="6.5" font-weight="bold" text-anchor="middle">23</text>
<line x1="139.5" y1="1640.2" x2="139.5" y2="1655" stroke="#000" stroke-width="1.8"/>
<path d="M136.5,1656 Q139.5,1651 142.5,1656" fill="none" stroke="#000" stroke-width="1.4"/>
<text transform="translate(142,1662) scale(0.8,1)" font-family="&quot;Liberation Sans&quot;, sans-serif" font-size="6.5" font-weight="bold" text-anchor="middle">16</text>
<line x1="154.5" y1="1640.2" x2="154.5" y2="1655" stroke="#000" stroke-width="1.8"/>
<path d="M151.5,1656 Q154.5,1651 157.5,1656" fill="none" stroke="#000" stroke-width="1.4"/>
<text transform="translate(157,1662) scale(0.8,1)" font-family="&quot;Liberation Sans&quot;, sans-serif" font-size="6.5" font-weight="bold" text-anchor="middle">18</text>
<line x1="170" y1="1640.2" x2="170" y2="1655" stroke="#000" stroke-width="1.8"/>
<path d="M167,1656 Q170,1651 173,1656" fill="none" stroke="#000" stroke-width="1.4"/>
<text transform="translate(172.5,1662) scale(0.8,1)" font-family="&quot;Liberation Sans&quot;, sans-serif" font-size="6.5" font-weight="bold" text-anchor="middle">14</text>
<line x1="186" y1="1640.2" x2="186" y2="1655" stroke="#000" stroke-width="1.8"/>
<path d="M183,1656 Q186,1651 189,1656" fill="none" stroke="#000" stroke-width="1.4"/>
<text transform="translate(188.5,1662) scale(0.8,1)" font-family="&quot;Liberation Sans&quot;, sans-serif" font-size="6.5" font-weight="bold" text-anchor="middle">25</text>
<line x1="200.4" y1="1640.2" x2="200.4" y2="1655" stroke="#000" stroke-width="1.8"/>
<path d="M197.4,1656 Q200.4,1651 203.4,1656" fill="none" stroke="#000" stroke-width="1.4"/>
<text transform="translate(202.9,1662) scale(0.8,1)" font-family="&quot;Liberation Sans&quot;, sans-serif" font-size="6.5" font-weight="bold" text-anchor="middle">30</text>
<line x1="209.4" y1="1640.2" x2="209.4" y2="1655" stroke="#000" stroke-width="1.8"/>
<path d="M206.4,1656 Q209.4,1651 212.4,1656" fill="none" stroke="#000" stroke-width="1.4"/>
<text transform="translate(211.9,1662) scale(0.8,1)" font-family="&quot;Liberation Sans&quot;, sans-serif" font-size="6.5" font-weight="bold" text-anchor="middle">13</text>
<line x1="239.6" y1="1640.2" x2="239.6" y2="1655" stroke="#000" stroke-width="1.8"/>
<path d="M236.6,1656 Q239.6,1651 242.6,1656" fill="none" stroke="#000" stroke-width="1.4"/>
<text transform="translate(242.1,1662) scale(0.8,1)" font-family="&quot;Liberation Sans&quot;, sans-serif" font-size="6.5" font-weight="bold" text-anchor="middle">20</text>
<line x1="255" y1="1640.2" x2="255" y2="1655" stroke="#000" stroke-width="1.8"/>
<path d="M252,1656 Q255,1651 258,1656" fill="none" stroke="#000" stroke-width="1.4"/>
<text transform="translate(257.5,1662) scale(0.8,1)" font-family="&quot;Liberation Sans&quot;, sans-serif" font-size="6.5" font-weight="bold" text-anchor="middle">27</text>
<line x1="270" y1="1640.2" x2="270" y2="1655" stroke="#000" stroke-width="1.8"/>
<path d="M267,1656 Q270,1651 273,1656" fill="none" stroke="#000" stroke-width="1.4"/>
<text transform="translate(272.5,1662) scale(0.8,1)" font-family="&quot;Liberation Sans&quot;, sans-serif" font-size="6.5" font-weight="bold" text-anchor="middle">22</text>
<line x1="285.4" y1="1640.2" x2="285.4" y2="1655" stroke="#000" stroke-width="1.8"/>
<path d="M282.4,1656 Q285.4,1651 288.4,1656" fill="none" stroke="#000" stroke-width="1.4"/>
<text transform="translate(287.9,1662) scale(0.8,1)" font-family="&quot;Liberation Sans&quot;, sans-serif" font-size="6.5" font-weight="bold" text-anchor="middle">1</text>
<line x1="301.5" y1="1640.2" x2="301.5" y2="1655" stroke="#000" stroke-width="1.8"/>
<path d="M298.5,1656 Q301.5,1651 304.5,1656" fill="none" stroke="#000" stroke-width="1.4"/>
<text transform="translate(304,1662) scale(0.8,1)" font-family="&quot;Liberation Sans&quot;, sans-serif" font-size="6.5" font-weight="bold" text-anchor="middle">12</text>
<line x1="316.6" y1="1640.2" x2="316.6" y2="1655" stroke="#000" stroke-width="1.8"/>
<path d="M313.6,1656 Q316.6,1651 319.6,1656" fill="none" stroke="#000" stroke-width="1.4"/>
<text transform="translate(319.1,1662) scale(0.8,1)" font-family="&quot;Liberation Sans&quot;, sans-serif" font-size="6.5" font-weight="bold" text-anchor="middle">3</text>
<line x1="332" y1="1640.2" x2="332" y2="1655" stroke="#000" stroke-width="1.8"/>
<path d="M329,1656 Q332,1651 335,1656" fill="none" stroke="#000" stroke-width="1.4"/>
<text transform="translate(334.5,1662) scale(0.8,1)" font-family="&quot;Liberation Sans&quot;, sans-serif" font-size="6.5" font-weight="bold" text-anchor="middle">5</text>
<line x1="362.4" y1="1640.2" x2="362.4" y2="1655" stroke="#000" stroke-width="1.8"/>
<path d="M359.4,1656 Q362.4,1651 365.4,1656" fill="none" stroke="#000" stroke-width="1.4"/>
<text transform="translate(364.9,1662) scale(0.8,1)" font-family="&quot;Liberation Sans&quot;, sans-serif" font-size="6.5" font-weight="bold" text-anchor="middle">18</text>
<line x1="377.9" y1="1640.2" x2="377.9" y2="1655" stroke="#000" stroke-width="1.8"/>
<path d="M374.9,1656 Q377.9,1651 380.9,1656" fill="none" stroke="#000" stroke-width="1.4"/>
<text transform="translate(380.4,1662) scale(0.8,1)" font-family="&quot;Liberation Sans&quot;, sans-serif" font-size="6.5" font-weight="bold" text-anchor="middle">32</text>
<line x1="401.2" y1="1640.2" x2="401.2" y2="1655" stroke="#000" stroke-width="1.8"/>
<path d="M398.2,1656 Q401.2,1651 404.2,1656" fill="none" stroke="#000" stroke-width="1.4"/>
<text transform="translate(403.7,1662) scale(0.8,1)" font-family="&quot;Liberation Sans&quot;, sans-serif" font-size="6.5" font-weight="bold" text-anchor="middle">1</text>
<line x1="409.9" y1="1640.2" x2="409.9" y2="1655" stroke="#000" stroke-width="1.8"/>
<path d="M406.9,1656 Q409.9,1651 412.9,1656" fill="none" stroke="#000" stroke-width="1.4"/>
<text transform="translate(412.4,1662) scale(0.8,1)" font-family="&quot;Liberation Sans&quot;, sans-serif" font-size="6.5" font-weight="bold" text-anchor="middle">6</text>
<line x1="424.5" y1="1640.2" x2="424.5" y2="1655" stroke="#000" stroke-width="1.8"/>
<path d="M421.5,1656 Q424.5,1651 427.5,1656" fill="none" stroke="#000" stroke-width="1.4"/>
<text transform="translate(427,1662) scale(0.8,1)" font-family="&quot;Liberation Sans&quot;, sans-serif" font-size="6.5" font-weight="bold" text-anchor="middle">4</text>
<text transform="translate(123,1534.8) scale(0.85,1)" font-family="&quot;Liberation Sans&quot;, sans-serif" font-size="9" font-weight="bold" text-anchor="middle">0,75</text>
<text transform="translate(123,1544.5) scale(0.85,1)" font-family="&quot;Liberation Sans&quot;, sans-serif" font-size="9" font-weight="bold" text-anchor="middle">bl</text>
<text transform="translate(123,1554.2) scale(0.85,1)" font-family="&quot;Liberation Sans&quot;, sans-serif" font-size="9" font-weight="bold" text-anchor="middle">ws</text>
<text transform="translate(139,1571.2) scale(0.85,1)" font-family="&quot;Liberation Sans&quot;, sans-serif" font-size="9" font-weight="bold" text-anchor="middle">0,75</text>
<text transform="translate(139,1582.2) scale(0.85,1)" font-family="&quot;Liberation Sans&quot;, sans-serif" font-size="9" font-weight="bold" text-anchor="middle">gr</text>
<text transform="translate(139,1593.2) scale(0.85,1)" font-family="&quot;Liberation Sans&quot;, sans-serif" font-size="9" font-weight="bold" text-anchor="middle">gn</text>
<text transform="translate(154.6,1534.8) scale(0.85,1)" font-family="&quot;Liberation Sans&quot;, sans-serif" font-size="9" font-weight="bold" text-anchor="middle">0,75</text>
<text transform="translate(154.6,1544.5) scale(0.85,1)" font-family="&quot;Liberation Sans&quot;, sans-serif" font-size="9" font-weight="bold" text-anchor="middle">bl</text>
<text transform="translate(154.6,1554.2) scale(0.85,1)" font-family="&quot;Liberation Sans&quot;, sans-serif" font-size="9" font-weight="bold" text-anchor="middle">ge</text>
<text transform="translate(170,1571.2) scale(0.85,1)" font-family="&quot;Liberation Sans&quot;, sans-serif" font-size="9" font-weight="bold" text-anchor="middle">0,75</text>
<text transform="translate(170,1581.8) scale(0.85,1)" font-family="&quot;Liberation Sans&quot;, sans-serif" font-size="9" font-weight="bold" text-anchor="middle">vi</text>
<text transform="translate(184.9,1534.8) scale(0.85,1)" font-family="&quot;Liberation Sans&quot;, sans-serif" font-size="9" font-weight="bold" text-anchor="middle">0,75</text>
<text transform="translate(184.9,1544.5) scale(0.85,1)" font-family="&quot;Liberation Sans&quot;, sans-serif" font-size="9" font-weight="bold" text-anchor="middle">gn</text>
<text transform="translate(184.9,1554.2) scale(0.85,1)" font-family="&quot;Liberation Sans&quot;, sans-serif" font-size="9" font-weight="bold" text-anchor="middle">ge</text>
<text transform="translate(200.4,1571.2) scale(0.85,1)" font-family="&quot;Liberation Sans&quot;, sans-serif" font-size="9" font-weight="bold" text-anchor="middle">0,75</text>
<text transform="translate(200.4,1582.2) scale(0.85,1)" font-family="&quot;Liberation Sans&quot;, sans-serif" font-size="9" font-weight="bold" text-anchor="middle">gn</text>
<text transform="translate(200.4,1593.2) scale(0.85,1)" font-family="&quot;Liberation Sans&quot;, sans-serif" font-size="9" font-weight="bold" text-anchor="middle">bl</text>
<text transform="translate(209.6,1534.8) scale(0.85,1)" font-family="&quot;Liberation Sans&quot;, sans-serif" font-size="9" font-weight="bold" text-anchor="middle">0,75</text>
<text transform="translate(209.6,1545.2) scale(0.85,1)" font-family="&quot;Liberation Sans&quot;, sans-serif" font-size="9" font-weight="bold" text-anchor="middle">ws</text>
<text transform="translate(239.4,1535.9) scale(0.85,1)" font-family="&quot;Liberation Sans&quot;, sans-serif" font-size="9" font-weight="bold" text-anchor="middle">W10</text>
<line x1="233.4" y1="1540" x2="245.4" y2="1540" stroke="#000" stroke-width="2.6"/>
<line x1="239.4" y1="1540" x2="239.4" y2="1562" stroke="#000" stroke-width="2"/>
<text transform="translate(239.4,1571.2) scale(0.85,1)" font-family="&quot;Liberation Sans&quot;, sans-serif" font-size="9" font-weight="bold" text-anchor="middle">0,75</text>
<text transform="translate(239.4,1581.8) scale(0.85,1)" font-family="&quot;Liberation Sans&quot;, sans-serif" font-size="9" font-weight="bold" text-anchor="middle">br</text>
<text transform="translate(301.3,1571.2) scale(0.85,1)" font-family="&quot;Liberation Sans&quot;, sans-serif" font-size="9" font-weight="bold" text-anchor="middle">1,5</text>
<text transform="translate(301.3,1581.8) scale(0.85,1)" font-family="&quot;Liberation Sans&quot;, sans-serif" font-size="9" font-weight="bold" text-anchor="middle">br</text>
<line x1="123.4" y1="1558" x2="123.4" y2="1656" stroke="#000" stroke-width="2"/>
<line x1="139.5" y1="1597" x2="139.5" y2="1656" stroke="#000" stroke-width="2"/>
<line x1="154.5" y1="1558" x2="154.5" y2="1656" stroke="#000" stroke-width="2"/>
<line x1="170" y1="1586" x2="170" y2="1656" stroke="#000" stroke-width="2"/>
<line x1="186" y1="1558" x2="186" y2="1656" stroke="#000" stroke-width="2"/>
<line x1="200.4" y1="1597" x2="200.4" y2="1656" stroke="#000" stroke-width="2"/>
<line x1="209.4" y1="1548" x2="209.4" y2="1656" stroke="#000" stroke-width="2"/>
<line x1="239.6" y1="1586" x2="239.6" y2="1656" stroke="#000" stroke-width="2"/>
<line x1="301.5" y1="1586" x2="301.5" y2="1656" stroke="#000" stroke-width="2"/>
</svg></body></html>
